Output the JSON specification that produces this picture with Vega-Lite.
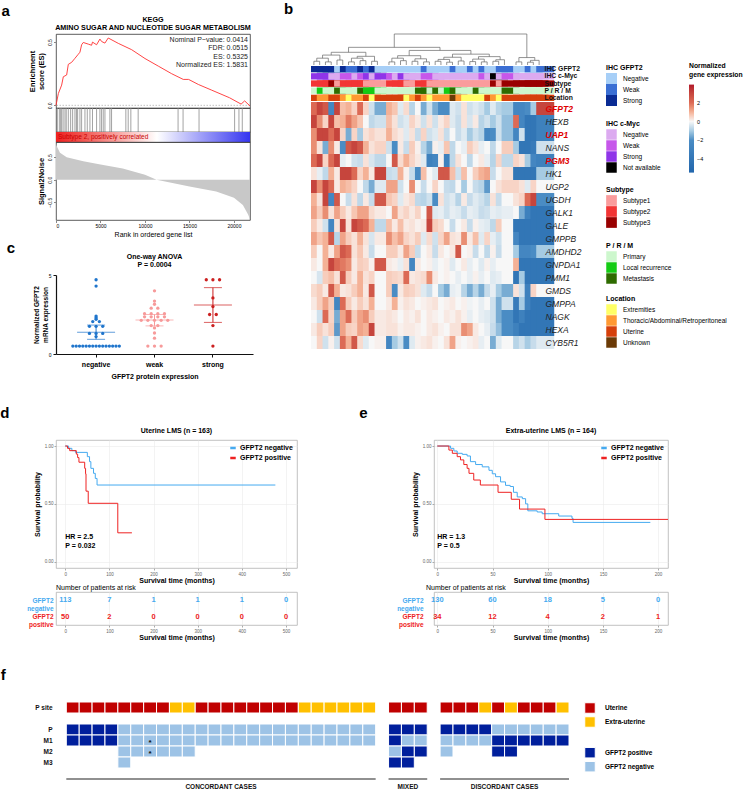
{
  "$schema": "https://vega.github.io/schema/vega-lite/v6.json",
  "background": "white",
  "padding": {"left": 0, "top": 1, "right": 0, "bottom": 0},
  "config": {
    "font": "Liberation Sans",
    "view": {"stroke": null},
    "axis": {"grid": false},
    "title": {"font": "Liberation Sans"}
  },
  "datasets": {
    "es": [
      {"rank": 0, "es": 0}, {"rank": 262, "es": 0.093}, {"rank": 635, "es": 0.16}, {"rank": 822, "es": 0.226},
      {"rank": 1196, "es": 0.24}, {"rank": 1383, "es": 0.324}, {"rank": 1757, "es": 0.34}, {"rank": 2131, "es": 0.372},
      {"rank": 2504, "es": 0.404}, {"rank": 2691, "es": 0.42}, {"rank": 2878, "es": 0.479}, {"rank": 3065, "es": 0.497},
      {"rank": 3626, "es": 0.484}, {"rank": 4000, "es": 0.475}, {"rank": 4100, "es": 0.5}, {"rank": 4560, "es": 0.479},
      {"rank": 4934, "es": 0.524}, {"rank": 5121, "es": 0.505}, {"rank": 5494, "es": 0.492}, {"rank": 5869, "es": 0.5325},
      {"rank": 7000, "es": 0.49}, {"rank": 8500, "es": 0.44}, {"rank": 10000, "es": 0.37}, {"rank": 11500, "es": 0.31},
      {"rank": 13000, "es": 0.25}, {"rank": 14300, "es": 0.205}, {"rank": 14900, "es": 0.205}, {"rank": 16000, "es": 0.165},
      {"rank": 17500, "es": 0.12}, {"rank": 19500, "es": 0.06}, {"rank": 20800, "es": 0.01}, {"rank": 21200, "es": 0.035},
      {"rank": 21800, "es": -0.005}
    ],
    "hits": [
      {"rank": 150}, {"rank": 374}, {"rank": 520}, {"rank": 636}, {"rank": 800}, {"rank": 1009}, {"rank": 1150},
      {"rank": 1383}, {"rank": 1645}, {"rank": 1869}, {"rank": 2131}, {"rank": 2300}, {"rank": 2430}, {"rank": 2691},
      {"rank": 2878}, {"rank": 3252}, {"rank": 3514}, {"rank": 3813}, {"rank": 4100}, {"rank": 4560}, {"rank": 4934},
      {"rank": 5121}, {"rank": 5308}, {"rank": 5500}, {"rank": 6056}, {"rank": 6243}, {"rank": 7850}, {"rank": 8112},
      {"rank": 8411}, {"rank": 9233}, {"rank": 13718}, {"rank": 14279}, {"rank": 16073}, {"rank": 20072},
      {"rank": 20558}, {"rank": 20931}
    ],
    "s2n": [
      {"rank": 0, "s": 0.8}, {"rank": 75, "s": 0.75}, {"rank": 450, "s": 0.6}, {"rank": 1200, "s": 0.5},
      {"rank": 3070, "s": 0.41}, {"rank": 5000, "s": 0.34}, {"rank": 7500, "s": 0.25}, {"rank": 10000, "s": 0.11},
      {"rank": 11300, "s": 0}, {"rank": 15000, "s": -0.15}, {"rank": 18000, "s": -0.26}, {"rank": 20000, "s": -0.4},
      {"rank": 21000, "s": -0.56}, {"rank": 21600, "s": -0.78}, {"rank": 21800, "s": -0.88}
    ],
    "cdots": [
      {"grp": "negative", "v": 4.7}, {"grp": "negative", "v": 4.3}, {"grp": "negative", "v": 2.4},
      {"grp": "negative", "v": 2.3}, {"grp": "negative", "v": 2.2}, {"grp": "negative", "v": 2.05},
      {"grp": "negative", "v": 2.05}, {"grp": "negative", "v": 1.75}, {"grp": "negative", "v": 1.75},
      {"grp": "negative", "v": 1.75}, {"grp": "negative", "v": 1.3}, {"grp": "negative", "v": 1.3},
      {"grp": "negative", "v": 1.3}, {"grp": "negative", "v": 1.1},
      {"grp": "negative", "v": 0.5}, {"grp": "negative", "v": 0.5}, {"grp": "negative", "v": 0.5},
      {"grp": "negative", "v": 0.5}, {"grp": "negative", "v": 0.5}, {"grp": "negative", "v": 0.5},
      {"grp": "negative", "v": 0.5}, {"grp": "negative", "v": 0.5}, {"grp": "negative", "v": 0.5},
      {"grp": "negative", "v": 0.5}, {"grp": "negative", "v": 0.5}, {"grp": "negative", "v": 0.5},
      {"grp": "negative", "v": 0.5}, {"grp": "negative", "v": 0.5}, {"grp": "negative", "v": 0.5},
      {"grp": "weak", "v": 4.0}, {"grp": "weak", "v": 3.35}, {"grp": "weak", "v": 3.15},
      {"grp": "weak", "v": 2.9}, {"grp": "weak", "v": 2.9}, {"grp": "weak", "v": 2.55},
      {"grp": "weak", "v": 2.55}, {"grp": "weak", "v": 2.55}, {"grp": "weak", "v": 2.55},
      {"grp": "weak", "v": 2.35}, {"grp": "weak", "v": 2.35}, {"grp": "weak", "v": 2.35},
      {"grp": "weak", "v": 2.35}, {"grp": "weak", "v": 2.13}, {"grp": "weak", "v": 2.13},
      {"grp": "weak", "v": 2.13}, {"grp": "weak", "v": 2.13}, {"grp": "weak", "v": 2.13},
      {"grp": "weak", "v": 1.8}, {"grp": "weak", "v": 1.8}, {"grp": "weak", "v": 1.65},
      {"grp": "weak", "v": 1.33}, {"grp": "weak", "v": 1.0}, {"grp": "weak", "v": 0.5},
      {"grp": "weak", "v": 0.5}, {"grp": "weak", "v": 0.5},
      {"grp": "strong", "v": 4.7}, {"grp": "strong", "v": 4.7}, {"grp": "strong", "v": 4.7},
      {"grp": "strong", "v": 3.55}, {"grp": "strong", "v": 3.0}, {"grp": "strong", "v": 2.5},
      {"grp": "strong", "v": 2.5}, {"grp": "strong", "v": 1.8}, {"grp": "strong", "v": 0.5}
    ],
    "cbars": [
      {"grp": "negative", "mean": 1.38, "lo": 0.93, "hi": 1.83},
      {"grp": "weak", "mean": 2.15, "lo": 1.78, "hi": 2.5},
      {"grp": "strong", "mean": 3.1, "lo": 2.0, "hi": 4.2}
    ],
    "dend": [
      {"xl": 0.5, "hl": 0, "xr": 1.5, "hr": 0, "h": 12}, {"xl": 2.5, "hl": 0, "xr": 3.5, "hr": 0, "h": 10},
      {"xl": 1, "hl": 12, "xr": 3, "hr": 10, "h": 22}, {"xl": 4.5, "hl": 0, "xr": 5.5, "hr": 0, "h": 16},
      {"xl": 2, "hl": 22, "xr": 5, "hr": 16, "h": 32}, {"xl": 6.5, "hl": 0, "xr": 7.5, "hr": 0, "h": 10},
      {"xl": 8.5, "hl": 0, "xr": 9.5, "hr": 0, "h": 14}, {"xl": 7, "hl": 10, "xr": 9, "hr": 14, "h": 22},
      {"xl": 10.5, "hl": 0, "xr": 11.5, "hr": 0, "h": 12}, {"xl": 8, "hl": 22, "xr": 11, "hr": 12, "h": 28},
      {"xl": 3.5, "hl": 32, "xr": 9.5, "hr": 28, "h": 41},
      {"xl": 13.5, "hl": 0, "xr": 14.5, "hr": 0, "h": 10}, {"xl": 15.5, "hl": 0, "xr": 16.5, "hr": 0, "h": 14},
      {"xl": 14, "hl": 10, "xr": 16, "hr": 14, "h": 22}, {"xl": 17.5, "hl": 0, "xr": 18.5, "hr": 0, "h": 12},
      {"xl": 19.5, "hl": 0, "xr": 20.5, "hr": 0, "h": 10}, {"xl": 18, "hl": 12, "xr": 20, "hr": 10, "h": 20},
      {"xl": 15, "hl": 22, "xr": 19, "hr": 20, "h": 30}, {"xl": 21.5, "hl": 0, "xr": 22.5, "hr": 0, "h": 12},
      {"xl": 23.5, "hl": 0, "xr": 24.5, "hr": 0, "h": 9}, {"xl": 22, "hl": 12, "xr": 24, "hr": 9, "h": 18},
      {"xl": 25.5, "hl": 0, "xr": 26.5, "hr": 0, "h": 13}, {"xl": 23, "hl": 18, "xr": 26, "hr": 13, "h": 25},
      {"xl": 27.5, "hl": 0, "xr": 28.5, "hr": 0, "h": 11}, {"xl": 29.5, "hl": 0, "xr": 30.5, "hr": 0, "h": 10},
      {"xl": 28, "hl": 11, "xr": 30, "hr": 10, "h": 19}, {"xl": 31.5, "hl": 0, "xr": 32.5, "hr": 0, "h": 12},
      {"xl": 32, "hl": 12, "xr": 33.5, "hr": 0, "h": 17}, {"xl": 29, "hl": 19, "xr": 32.75, "hr": 17, "h": 27},
      {"xl": 24.5, "hl": 25, "xr": 30.875, "hr": 27, "h": 35}, {"xl": 17, "hl": 30, "xr": 27.69, "hr": 35, "h": 47},
      {"xl": 35.5, "hl": 0, "xr": 36.5, "hr": 0, "h": 10}, {"xl": 37.5, "hl": 0, "xr": 38.5, "hr": 0, "h": 9},
      {"xl": 38, "hl": 9, "xr": 39.5, "hr": 0, "h": 15}, {"xl": 36, "hl": 10, "xr": 38.75, "hr": 15, "h": 24},
      {"xl": 6.5, "hl": 41, "xr": 22.34, "hr": 47, "h": 57}, {"xl": 14.42, "hl": 57, "xr": 37.375, "hr": 24, "h": 100}
    ],
    "ann": [
      {"a":"IHC GFPT2","c":1,"k":"Strong"},{"a":"IHC GFPT2","c":2,"k":"Strong"},{"a":"IHC GFPT2","c":3,"k":"Strong"},{"a":"IHC GFPT2","c":4,"k":"Strong"},{"a":"IHC GFPT2","c":5,"k":"Negative"},{"a":"IHC GFPT2","c":6,"k":"Strong"},{"a":"IHC GFPT2","c":7,"k":"Weak"},{"a":"IHC GFPT2","c":8,"k":"Weak"},{"a":"IHC GFPT2","c":9,"k":"Strong"},{"a":"IHC GFPT2","c":10,"k":"Weak"},{"a":"IHC GFPT2","c":11,"k":"Strong"},{"a":"IHC GFPT2","c":12,"k":"Negative"},{"a":"IHC GFPT2","c":13,"k":"Negative"},{"a":"IHC GFPT2","c":14,"k":"Negative"},{"a":"IHC GFPT2","c":15,"k":"Negative"},{"a":"IHC GFPT2","c":16,"k":"Negative"},{"a":"IHC GFPT2","c":17,"k":"Negative"},{"a":"IHC GFPT2","c":18,"k":"Negative"},{"a":"IHC GFPT2","c":19,"k":"Weak"},{"a":"IHC GFPT2","c":20,"k":"Negative"},{"a":"IHC GFPT2","c":21,"k":"Negative"},{"a":"IHC GFPT2","c":22,"k":"Negative"},{"a":"IHC GFPT2","c":23,"k":"Negative"},{"a":"IHC GFPT2","c":24,"k":"Weak"},{"a":"IHC GFPT2","c":25,"k":"Negative"},{"a":"IHC GFPT2","c":26,"k":"Negative"},{"a":"IHC GFPT2","c":27,"k":"Weak"},{"a":"IHC GFPT2","c":28,"k":"Negative"},{"a":"IHC GFPT2","c":29,"k":"Weak"},{"a":"IHC GFPT2","c":30,"k":"Negative"},{"a":"IHC GFPT2","c":31,"k":"Negative"},{"a":"IHC GFPT2","c":32,"k":"Weak"},{"a":"IHC GFPT2","c":33,"k":"Weak"},{"a":"IHC GFPT2","c":34,"k":"Negative"},{"a":"IHC GFPT2","c":35,"k":"Negative"},{"a":"IHC GFPT2","c":36,"k":"Weak"},{"a":"IHC GFPT2","c":37,"k":"Negative"},{"a":"IHC GFPT2","c":38,"k":"Weak"},
      {"a":"IHC c-Myc","c":1,"k":"Strong"},{"a":"IHC c-Myc","c":2,"k":"Strong"},{"a":"IHC c-Myc","c":3,"k":"Strong"},{"a":"IHC c-Myc","c":4,"k":"Negative"},{"a":"IHC c-Myc","c":5,"k":"Negative"},{"a":"IHC c-Myc","c":6,"k":"Weak"},{"a":"IHC c-Myc","c":7,"k":"Weak"},{"a":"IHC c-Myc","c":8,"k":"Negative"},{"a":"IHC c-Myc","c":9,"k":"Weak"},{"a":"IHC c-Myc","c":10,"k":"Strong"},{"a":"IHC c-Myc","c":11,"k":"Negative"},{"a":"IHC c-Myc","c":12,"k":"Strong"},{"a":"IHC c-Myc","c":13,"k":"Weak"},{"a":"IHC c-Myc","c":14,"k":"Negative"},{"a":"IHC c-Myc","c":15,"k":"Strong"},{"a":"IHC c-Myc","c":16,"k":"Negative"},{"a":"IHC c-Myc","c":17,"k":"Negative"},{"a":"IHC c-Myc","c":18,"k":"Negative"},{"a":"IHC c-Myc","c":19,"k":"Weak"},{"a":"IHC c-Myc","c":20,"k":"Weak"},{"a":"IHC c-Myc","c":21,"k":"Negative"},{"a":"IHC c-Myc","c":22,"k":"Negative"},{"a":"IHC c-Myc","c":23,"k":"Negative"},{"a":"IHC c-Myc","c":24,"k":"Negative"},{"a":"IHC c-Myc","c":25,"k":"Negative"},{"a":"IHC c-Myc","c":26,"k":"Negative"},{"a":"IHC c-Myc","c":27,"k":"Negative"},{"a":"IHC c-Myc","c":28,"k":"Negative"},{"a":"IHC c-Myc","c":29,"k":"Weak"},{"a":"IHC c-Myc","c":30,"k":"Negative"},{"a":"IHC c-Myc","c":31,"k":"Not available"},{"a":"IHC c-Myc","c":32,"k":"Negative"},{"a":"IHC c-Myc","c":33,"k":"Weak"},{"a":"IHC c-Myc","c":34,"k":"Negative"},{"a":"IHC c-Myc","c":35,"k":"Negative"},{"a":"IHC c-Myc","c":36,"k":"Negative"},{"a":"IHC c-Myc","c":37,"k":"Negative"},{"a":"IHC c-Myc","c":38,"k":"Negative"},
      {"a":"Subtype","c":1,"k":"Subtype2"},{"a":"Subtype","c":2,"k":"Subtype2"},{"a":"Subtype","c":3,"k":"Subtype2"},{"a":"Subtype","c":4,"k":"Subtype3"},{"a":"Subtype","c":5,"k":"Subtype1"},{"a":"Subtype","c":6,"k":"Subtype2"},{"a":"Subtype","c":7,"k":"Subtype2"},{"a":"Subtype","c":8,"k":"Subtype2"},{"a":"Subtype","c":9,"k":"Subtype2"},{"a":"Subtype","c":10,"k":"Subtype1"},{"a":"Subtype","c":11,"k":"Subtype1"},{"a":"Subtype","c":12,"k":"Subtype1"},{"a":"Subtype","c":13,"k":"Subtype2"},{"a":"Subtype","c":14,"k":"Subtype2"},{"a":"Subtype","c":15,"k":"Subtype2"},{"a":"Subtype","c":16,"k":"Subtype1"},{"a":"Subtype","c":17,"k":"Subtype1"},{"a":"Subtype","c":18,"k":"Subtype2"},{"a":"Subtype","c":19,"k":"Subtype2"},{"a":"Subtype","c":20,"k":"Subtype1"},{"a":"Subtype","c":21,"k":"Subtype1"},{"a":"Subtype","c":22,"k":"Subtype1"},{"a":"Subtype","c":23,"k":"Subtype1"},{"a":"Subtype","c":24,"k":"Subtype1"},{"a":"Subtype","c":25,"k":"Subtype1"},{"a":"Subtype","c":26,"k":"Subtype1"},{"a":"Subtype","c":27,"k":"Subtype1"},{"a":"Subtype","c":28,"k":"Subtype1"},{"a":"Subtype","c":29,"k":"Subtype1"},{"a":"Subtype","c":30,"k":"Subtype1"},{"a":"Subtype","c":31,"k":"Subtype3"},{"a":"Subtype","c":32,"k":"Subtype1"},{"a":"Subtype","c":33,"k":"Subtype3"},{"a":"Subtype","c":34,"k":"Subtype3"},{"a":"Subtype","c":35,"k":"Subtype3"},{"a":"Subtype","c":36,"k":"Subtype3"},{"a":"Subtype","c":37,"k":"Subtype3"},{"a":"Subtype","c":38,"k":"Subtype3"},
      {"a":"P / R / M","c":1,"k":"Primary"},{"a":"P / R / M","c":2,"k":"Local recurrence"},{"a":"P / R / M","c":3,"k":"Primary"},{"a":"P / R / M","c":4,"k":"Primary"},{"a":"P / R / M","c":5,"k":"Metastasis"},{"a":"P / R / M","c":6,"k":"Primary"},{"a":"P / R / M","c":7,"k":"Primary"},{"a":"P / R / M","c":8,"k":"Primary"},{"a":"P / R / M","c":9,"k":"Metastasis"},{"a":"P / R / M","c":10,"k":"Local recurrence"},{"a":"P / R / M","c":11,"k":"Local recurrence"},{"a":"P / R / M","c":12,"k":"Primary"},{"a":"P / R / M","c":13,"k":"Primary"},{"a":"P / R / M","c":14,"k":"Primary"},{"a":"P / R / M","c":15,"k":"Primary"},{"a":"P / R / M","c":16,"k":"Primary"},{"a":"P / R / M","c":17,"k":"Primary"},{"a":"P / R / M","c":18,"k":"Metastasis"},{"a":"P / R / M","c":19,"k":"Metastasis"},{"a":"P / R / M","c":20,"k":"Primary"},{"a":"P / R / M","c":21,"k":"Metastasis"},{"a":"P / R / M","c":22,"k":"Primary"},{"a":"P / R / M","c":23,"k":"Local recurrence"},{"a":"P / R / M","c":24,"k":"Metastasis"},{"a":"P / R / M","c":25,"k":"Primary"},{"a":"P / R / M","c":26,"k":"Primary"},{"a":"P / R / M","c":27,"k":"Primary"},{"a":"P / R / M","c":28,"k":"Metastasis"},{"a":"P / R / M","c":29,"k":"Primary"},{"a":"P / R / M","c":30,"k":"Primary"},{"a":"P / R / M","c":31,"k":"Primary"},{"a":"P / R / M","c":32,"k":"Primary"},{"a":"P / R / M","c":33,"k":"Metastasis"},{"a":"P / R / M","c":34,"k":"Primary"},{"a":"P / R / M","c":35,"k":"Primary"},{"a":"P / R / M","c":36,"k":"Primary"},{"a":"P / R / M","c":37,"k":"Primary"},{"a":"P / R / M","c":38,"k":"Primary"},
      {"a":"Location","c":1,"k":"Uterine"},{"a":"Location","c":2,"k":"Thoracic/Abdominal/Retroperitoneal"},{"a":"Location","c":3,"k":"Thoracic/Abdominal/Retroperitoneal"},{"a":"Location","c":4,"k":"Uterine"},{"a":"Location","c":5,"k":"Uterine"},{"a":"Location","c":6,"k":"Thoracic/Abdominal/Retroperitoneal"},{"a":"Location","c":7,"k":"Extremities"},{"a":"Location","c":8,"k":"Thoracic/Abdominal/Retroperitoneal"},{"a":"Location","c":9,"k":"Thoracic/Abdominal/Retroperitoneal"},{"a":"Location","c":10,"k":"Uterine"},{"a":"Location","c":11,"k":"Extremities"},{"a":"Location","c":12,"k":"Uterine"},{"a":"Location","c":13,"k":"Uterine"},{"a":"Location","c":14,"k":"Uterine"},{"a":"Location","c":15,"k":"Uterine"},{"a":"Location","c":16,"k":"Extremities"},{"a":"Location","c":17,"k":"Thoracic/Abdominal/Retroperitoneal"},{"a":"Location","c":18,"k":"Uterine"},{"a":"Location","c":19,"k":"Thoracic/Abdominal/Retroperitoneal"},{"a":"Location","c":20,"k":"Extremities"},{"a":"Location","c":21,"k":"Thoracic/Abdominal/Retroperitoneal"},{"a":"Location","c":22,"k":"Thoracic/Abdominal/Retroperitoneal"},{"a":"Location","c":23,"k":"Thoracic/Abdominal/Retroperitoneal"},{"a":"Location","c":24,"k":"Unknown"},{"a":"Location","c":25,"k":"Thoracic/Abdominal/Retroperitoneal"},{"a":"Location","c":26,"k":"Extremities"},{"a":"Location","c":27,"k":"Extremities"},{"a":"Location","c":28,"k":"Extremities"},{"a":"Location","c":29,"k":"Extremities"},{"a":"Location","c":30,"k":"Uterine"},{"a":"Location","c":31,"k":"Thoracic/Abdominal/Retroperitoneal"},{"a":"Location","c":32,"k":"Extremities"},{"a":"Location","c":33,"k":"Uterine"},{"a":"Location","c":34,"k":"Uterine"},{"a":"Location","c":35,"k":"Uterine"},{"a":"Location","c":36,"k":"Uterine"},{"a":"Location","c":37,"k":"Uterine"},{"a":"Location","c":38,"k":"Uterine"}
    ],
    "heat": [
      {"g":"GFPT2","c":1,"v":2},{"g":"GFPT2","c":2,"v":3},{"g":"GFPT2","c":3,"v":2.5},{"g":"GFPT2","c":4,"v":-2.5},{"g":"GFPT2","c":5,"v":3},{"g":"GFPT2","c":6,"v":0.8},{"g":"GFPT2","c":7,"v":1},{"g":"GFPT2","c":8,"v":0.5},{"g":"GFPT2","c":9,"v":2},{"g":"GFPT2","c":10,"v":0.5},{"g":"GFPT2","c":11,"v":-0.5},{"g":"GFPT2","c":12,"v":-1.5},{"g":"GFPT2","c":13,"v":1},{"g":"GFPT2","c":14,"v":0.7},{"g":"GFPT2","c":15,"v":-0.3},{"g":"GFPT2","c":16,"v":0.4},{"g":"GFPT2","c":17,"v":-0.8},{"g":"GFPT2","c":18,"v":0},{"g":"GFPT2","c":19,"v":-1.5},{"g":"GFPT2","c":20,"v":-0.5},{"g":"GFPT2","c":21,"v":-1.5},{"g":"GFPT2","c":22,"v":-2},{"g":"GFPT2","c":23,"v":-2},{"g":"GFPT2","c":24,"v":-0.3},{"g":"GFPT2","c":25,"v":-0.5},{"g":"GFPT2","c":26,"v":0.3},{"g":"GFPT2","c":27,"v":-0.5},{"g":"GFPT2","c":28,"v":-0.3},{"g":"GFPT2","c":29,"v":-0.5},{"g":"GFPT2","c":30,"v":-1},{"g":"GFPT2","c":31,"v":-0.3},{"g":"GFPT2","c":32,"v":-0.8},{"g":"GFPT2","c":33,"v":-1},{"g":"GFPT2","c":34,"v":-2.5},{"g":"GFPT2","c":35,"v":-2.5},{"g":"GFPT2","c":36,"v":-2},{"g":"GFPT2","c":37,"v":-1},{"g":"GFPT2","c":38,"v":3},
      {"g":"HEXB","c":1,"v":3},{"g":"HEXB","c":2,"v":1.5},{"g":"HEXB","c":3,"v":0.5},{"g":"HEXB","c":4,"v":3},{"g":"HEXB","c":5,"v":0.8},{"g":"HEXB","c":6,"v":1},{"g":"HEXB","c":7,"v":1.8},{"g":"HEXB","c":8,"v":1.2},{"g":"HEXB","c":9,"v":0.7},{"g":"HEXB","c":10,"v":0},{"g":"HEXB","c":11,"v":-0.7},{"g":"HEXB","c":12,"v":-0.5},{"g":"HEXB","c":13,"v":0.8},{"g":"HEXB","c":14,"v":0.3},{"g":"HEXB","c":15,"v":-0.5},{"g":"HEXB","c":16,"v":-0.3},{"g":"HEXB","c":17,"v":0.5},{"g":"HEXB","c":18,"v":0.2},{"g":"HEXB","c":19,"v":-0.5},{"g":"HEXB","c":20,"v":0.3},{"g":"HEXB","c":21,"v":-0.5},{"g":"HEXB","c":22,"v":0.2},{"g":"HEXB","c":23,"v":0.5},{"g":"HEXB","c":24,"v":-0.3},{"g":"HEXB","c":25,"v":-0.6},{"g":"HEXB","c":26,"v":0.3},{"g":"HEXB","c":27,"v":-0.4},{"g":"HEXB","c":28,"v":0.2},{"g":"HEXB","c":29,"v":-0.8},{"g":"HEXB","c":30,"v":-0.5},{"g":"HEXB","c":31,"v":-1},{"g":"HEXB","c":32,"v":-0.5},{"g":"HEXB","c":33,"v":-1.2},{"g":"HEXB","c":34,"v":2},{"g":"HEXB","c":35,"v":-2.5},{"g":"HEXB","c":36,"v":-4},{"g":"HEXB","c":37,"v":-4},{"g":"HEXB","c":38,"v":-3},
      {"g":"UAP1","c":1,"v":1.5},{"g":"UAP1","c":2,"v":3},{"g":"UAP1","c":3,"v":3},{"g":"UAP1","c":4,"v":2},{"g":"UAP1","c":5,"v":3},{"g":"UAP1","c":6,"v":0.5},{"g":"UAP1","c":7,"v":-1.5},{"g":"UAP1","c":8,"v":0.5},{"g":"UAP1","c":9,"v":-1},{"g":"UAP1","c":10,"v":0.3},{"g":"UAP1","c":11,"v":0.5},{"g":"UAP1","c":12,"v":0.3},{"g":"UAP1","c":13,"v":1},{"g":"UAP1","c":14,"v":0.4},{"g":"UAP1","c":15,"v":0.2},{"g":"UAP1","c":16,"v":-0.3},{"g":"UAP1","c":17,"v":0.3},{"g":"UAP1","c":18,"v":-0.6},{"g":"UAP1","c":19,"v":0.5},{"g":"UAP1","c":20,"v":-0.5},{"g":"UAP1","c":21,"v":-0.3},{"g":"UAP1","c":22,"v":0.3},{"g":"UAP1","c":23,"v":-0.6},{"g":"UAP1","c":24,"v":0},{"g":"UAP1","c":25,"v":-0.6},{"g":"UAP1","c":26,"v":-0.3},{"g":"UAP1","c":27,"v":-1},{"g":"UAP1","c":28,"v":-0.5},{"g":"UAP1","c":29,"v":-0.8},{"g":"UAP1","c":30,"v":-2.5},{"g":"UAP1","c":31,"v":-2},{"g":"UAP1","c":32,"v":-0.5},{"g":"UAP1","c":33,"v":-1.2},{"g":"UAP1","c":34,"v":-2.5},{"g":"UAP1","c":35,"v":-0.5},{"g":"UAP1","c":36,"v":-4},{"g":"UAP1","c":37,"v":-4},{"g":"UAP1","c":38,"v":-3},
      {"g":"NANS","c":1,"v":1.5},{"g":"NANS","c":2,"v":0.3},{"g":"NANS","c":3,"v":-1.5},{"g":"NANS","c":4,"v":1.5},{"g":"NANS","c":5,"v":0.2},{"g":"NANS","c":6,"v":-2},{"g":"NANS","c":7,"v":2.5},{"g":"NANS","c":8,"v":3},{"g":"NANS","c":9,"v":2.5},{"g":"NANS","c":10,"v":1},{"g":"NANS","c":11,"v":0.3},{"g":"NANS","c":12,"v":0.5},{"g":"NANS","c":13,"v":-0.5},{"g":"NANS","c":14,"v":-2},{"g":"NANS","c":15,"v":0.2},{"g":"NANS","c":16,"v":-0.6},{"g":"NANS","c":17,"v":0.6},{"g":"NANS","c":18,"v":0.1},{"g":"NANS","c":19,"v":-0.8},{"g":"NANS","c":20,"v":-1.5},{"g":"NANS","c":21,"v":0.1},{"g":"NANS","c":22,"v":-0.2},{"g":"NANS","c":23,"v":0.7},{"g":"NANS","c":24,"v":-0.7},{"g":"NANS","c":25,"v":0},{"g":"NANS","c":26,"v":-0.2},{"g":"NANS","c":27,"v":0.6},{"g":"NANS","c":28,"v":0.3},{"g":"NANS","c":29,"v":-0.2},{"g":"NANS","c":30,"v":0},{"g":"NANS","c":31,"v":-0.7},{"g":"NANS","c":32,"v":0},{"g":"NANS","c":33,"v":0.6},{"g":"NANS","c":34,"v":-1},{"g":"NANS","c":35,"v":-4},{"g":"NANS","c":36,"v":-4},{"g":"NANS","c":37,"v":-3.5},{"g":"NANS","c":38,"v":-0.5},
      {"g":"PGM3","c":1,"v":2},{"g":"PGM3","c":2,"v":3},{"g":"PGM3","c":3,"v":0.5},{"g":"PGM3","c":4,"v":2},{"g":"PGM3","c":5,"v":3},{"g":"PGM3","c":6,"v":-0.2},{"g":"PGM3","c":7,"v":0},{"g":"PGM3","c":8,"v":-0.5},{"g":"PGM3","c":9,"v":-0.6},{"g":"PGM3","c":10,"v":0.3},{"g":"PGM3","c":11,"v":-0.4},{"g":"PGM3","c":12,"v":-0.7},{"g":"PGM3","c":13,"v":0},{"g":"PGM3","c":14,"v":2.5},{"g":"PGM3","c":15,"v":0.4},{"g":"PGM3","c":16,"v":1},{"g":"PGM3","c":17,"v":0.5},{"g":"PGM3","c":18,"v":0.2},{"g":"PGM3","c":19,"v":-0.3},{"g":"PGM3","c":20,"v":-3},{"g":"PGM3","c":21,"v":-2.5},{"g":"PGM3","c":22,"v":0.1},{"g":"PGM3","c":23,"v":-3},{"g":"PGM3","c":24,"v":-0.7},{"g":"PGM3","c":25,"v":0.3},{"g":"PGM3","c":26,"v":0},{"g":"PGM3","c":27,"v":-0.7},{"g":"PGM3","c":28,"v":0},{"g":"PGM3","c":29,"v":0.2},{"g":"PGM3","c":30,"v":-0.2},{"g":"PGM3","c":31,"v":-0.8},{"g":"PGM3","c":32,"v":0.5},{"g":"PGM3","c":33,"v":-0.7},{"g":"PGM3","c":34,"v":0.5},{"g":"PGM3","c":35,"v":0.3},{"g":"PGM3","c":36,"v":-1},{"g":"PGM3","c":37,"v":-2.5},{"g":"PGM3","c":38,"v":-3},
      {"g":"HK1","c":1,"v":0.3},{"g":"HK1","c":2,"v":-0.2},{"g":"HK1","c":3,"v":-0.7},{"g":"HK1","c":4,"v":1},{"g":"HK1","c":5,"v":0.2},{"g":"HK1","c":6,"v":3},{"g":"HK1","c":7,"v":3},{"g":"HK1","c":8,"v":2},{"g":"HK1","c":9,"v":0.5},{"g":"HK1","c":10,"v":1},{"g":"HK1","c":11,"v":0.2},{"g":"HK1","c":12,"v":3},{"g":"HK1","c":13,"v":-0.6},{"g":"HK1","c":14,"v":-0.5},{"g":"HK1","c":15,"v":1},{"g":"HK1","c":16,"v":0.1},{"g":"HK1","c":17,"v":-0.6},{"g":"HK1","c":18,"v":-2},{"g":"HK1","c":19,"v":0.8},{"g":"HK1","c":20,"v":0},{"g":"HK1","c":21,"v":-0.3},{"g":"HK1","c":22,"v":2.5},{"g":"HK1","c":23,"v":2.5},{"g":"HK1","c":24,"v":0.8},{"g":"HK1","c":25,"v":-0.5},{"g":"HK1","c":26,"v":0.8},{"g":"HK1","c":27,"v":0},{"g":"HK1","c":28,"v":0.6},{"g":"HK1","c":29,"v":1},{"g":"HK1","c":30,"v":1.2},{"g":"HK1","c":31,"v":-0.6},{"g":"HK1","c":32,"v":0},{"g":"HK1","c":33,"v":0.3},{"g":"HK1","c":34,"v":-4},{"g":"HK1","c":35,"v":-4},{"g":"HK1","c":36,"v":-4},{"g":"HK1","c":37,"v":-4},{"g":"HK1","c":38,"v":-1},
      {"g":"UGP2","c":1,"v":3},{"g":"UGP2","c":2,"v":1.5},{"g":"UGP2","c":3,"v":3},{"g":"UGP2","c":4,"v":2},{"g":"UGP2","c":5,"v":0.2},{"g":"UGP2","c":6,"v":1},{"g":"UGP2","c":7,"v":0.8},{"g":"UGP2","c":8,"v":0.5},{"g":"UGP2","c":9,"v":0},{"g":"UGP2","c":10,"v":-0.7},{"g":"UGP2","c":11,"v":-1.5},{"g":"UGP2","c":12,"v":-0.3},{"g":"UGP2","c":13,"v":1.2},{"g":"UGP2","c":14,"v":1.2},{"g":"UGP2","c":15,"v":-0.5},{"g":"UGP2","c":16,"v":0},{"g":"UGP2","c":17,"v":1.5},{"g":"UGP2","c":18,"v":0},{"g":"UGP2","c":19,"v":-0.6},{"g":"UGP2","c":20,"v":0},{"g":"UGP2","c":21,"v":0.5},{"g":"UGP2","c":22,"v":0},{"g":"UGP2","c":23,"v":-0.6},{"g":"UGP2","c":24,"v":-0.7},{"g":"UGP2","c":25,"v":0},{"g":"UGP2","c":26,"v":-1},{"g":"UGP2","c":27,"v":0},{"g":"UGP2","c":28,"v":-0.6},{"g":"UGP2","c":29,"v":-0.8},{"g":"UGP2","c":30,"v":-1.8},{"g":"UGP2","c":31,"v":0},{"g":"UGP2","c":32,"v":0.3},{"g":"UGP2","c":33,"v":0.5},{"g":"UGP2","c":34,"v":0.5},{"g":"UGP2","c":35,"v":0.3},{"g":"UGP2","c":36,"v":-0.3},{"g":"UGP2","c":37,"v":0.5},{"g":"UGP2","c":38,"v":0},
      {"g":"UGDH","c":1,"v":1},{"g":"UGDH","c":2,"v":0.3},{"g":"UGDH","c":3,"v":3},{"g":"UGDH","c":4,"v":-2.5},{"g":"UGDH","c":5,"v":2.5},{"g":"UGDH","c":6,"v":0},{"g":"UGDH","c":7,"v":-0.6},{"g":"UGDH","c":8,"v":0.3},{"g":"UGDH","c":9,"v":-0.7},{"g":"UGDH","c":10,"v":0.2},{"g":"UGDH","c":11,"v":-0.6},{"g":"UGDH","c":12,"v":2.5},{"g":"UGDH","c":13,"v":0.7},{"g":"UGDH","c":14,"v":0.5},{"g":"UGDH","c":15,"v":-0.3},{"g":"UGDH","c":16,"v":0.2},{"g":"UGDH","c":17,"v":0.4},{"g":"UGDH","c":18,"v":-0.7},{"g":"UGDH","c":19,"v":-0.8},{"g":"UGDH","c":20,"v":-0.5},{"g":"UGDH","c":21,"v":-2},{"g":"UGDH","c":22,"v":0.3},{"g":"UGDH","c":23,"v":-0.5},{"g":"UGDH","c":24,"v":-0.3},{"g":"UGDH","c":25,"v":-0.8},{"g":"UGDH","c":26,"v":0.2},{"g":"UGDH","c":27,"v":-0.6},{"g":"UGDH","c":28,"v":-0.3},{"g":"UGDH","c":29,"v":-0.5},{"g":"UGDH","c":30,"v":-0.8},{"g":"UGDH","c":31,"v":0.3},{"g":"UGDH","c":32,"v":-0.6},{"g":"UGDH","c":33,"v":0},{"g":"UGDH","c":34,"v":0.3},{"g":"UGDH","c":35,"v":0.5},{"g":"UGDH","c":36,"v":2},{"g":"UGDH","c":37,"v":3},{"g":"UGDH","c":38,"v":-2},
      {"g":"GALK1","c":1,"v":1.2},{"g":"GALK1","c":2,"v":0.6},{"g":"GALK1","c":3,"v":1.5},{"g":"GALK1","c":4,"v":0.3},{"g":"GALK1","c":5,"v":1.2},{"g":"GALK1","c":6,"v":0.6},{"g":"GALK1","c":7,"v":0.2},{"g":"GALK1","c":8,"v":0.7},{"g":"GALK1","c":9,"v":1.2},{"g":"GALK1","c":10,"v":1.2},{"g":"GALK1","c":11,"v":0.4},{"g":"GALK1","c":12,"v":0.2},{"g":"GALK1","c":13,"v":0},{"g":"GALK1","c":14,"v":1.2},{"g":"GALK1","c":15,"v":0.3},{"g":"GALK1","c":16,"v":0.5},{"g":"GALK1","c":17,"v":0.2},{"g":"GALK1","c":18,"v":0.5},{"g":"GALK1","c":19,"v":0},{"g":"GALK1","c":20,"v":2.5},{"g":"GALK1","c":21,"v":-0.3},{"g":"GALK1","c":22,"v":-0.2},{"g":"GALK1","c":23,"v":-0.5},{"g":"GALK1","c":24,"v":-0.2},{"g":"GALK1","c":25,"v":-0.3},{"g":"GALK1","c":26,"v":-0.6},{"g":"GALK1","c":27,"v":-0.2},{"g":"GALK1","c":28,"v":-0.3},{"g":"GALK1","c":29,"v":-0.6},{"g":"GALK1","c":30,"v":-0.5},{"g":"GALK1","c":31,"v":-0.2},{"g":"GALK1","c":32,"v":-0.3},{"g":"GALK1","c":33,"v":-0.2},{"g":"GALK1","c":34,"v":0},{"g":"GALK1","c":35,"v":-1.5},{"g":"GALK1","c":36,"v":-3},{"g":"GALK1","c":37,"v":-4},{"g":"GALK1","c":38,"v":-4},
      {"g":"GALE","c":1,"v":0.6},{"g":"GALE","c":2,"v":0.2},{"g":"GALE","c":3,"v":-0.5},{"g":"GALE","c":4,"v":-2.5},{"g":"GALE","c":5,"v":0.3},{"g":"GALE","c":6,"v":3},{"g":"GALE","c":7,"v":0.3},{"g":"GALE","c":8,"v":3},{"g":"GALE","c":9,"v":2.5},{"g":"GALE","c":10,"v":2},{"g":"GALE","c":11,"v":1},{"g":"GALE","c":12,"v":-0.7},{"g":"GALE","c":13,"v":0.8},{"g":"GALE","c":14,"v":0.2},{"g":"GALE","c":15,"v":0.8},{"g":"GALE","c":16,"v":0.2},{"g":"GALE","c":17,"v":0.3},{"g":"GALE","c":18,"v":0.1},{"g":"GALE","c":19,"v":0.2},{"g":"GALE","c":20,"v":3},{"g":"GALE","c":21,"v":0.6},{"g":"GALE","c":22,"v":0.4},{"g":"GALE","c":23,"v":0},{"g":"GALE","c":24,"v":-0.6},{"g":"GALE","c":25,"v":0},{"g":"GALE","c":26,"v":0.2},{"g":"GALE","c":27,"v":-0.6},{"g":"GALE","c":28,"v":0.1},{"g":"GALE","c":29,"v":-0.2},{"g":"GALE","c":30,"v":-0.3},{"g":"GALE","c":31,"v":-0.7},{"g":"GALE","c":32,"v":0.6},{"g":"GALE","c":33,"v":0},{"g":"GALE","c":34,"v":-4},{"g":"GALE","c":35,"v":-4},{"g":"GALE","c":36,"v":-4},{"g":"GALE","c":37,"v":-4},{"g":"GALE","c":38,"v":-4},
      {"g":"GMPPB","c":1,"v":1.2},{"g":"GMPPB","c":2,"v":0.7},{"g":"GMPPB","c":3,"v":1},{"g":"GMPPB","c":4,"v":2.5},{"g":"GMPPB","c":5,"v":-0.8},{"g":"GMPPB","c":6,"v":1.2},{"g":"GMPPB","c":7,"v":0.6},{"g":"GMPPB","c":8,"v":0.3},{"g":"GMPPB","c":9,"v":1},{"g":"GMPPB","c":10,"v":0.3},{"g":"GMPPB","c":11,"v":-0.4},{"g":"GMPPB","c":12,"v":0.2},{"g":"GMPPB","c":13,"v":1.5},{"g":"GMPPB","c":14,"v":0.8},{"g":"GMPPB","c":15,"v":1.2},{"g":"GMPPB","c":16,"v":0.5},{"g":"GMPPB","c":17,"v":0.3},{"g":"GMPPB","c":18,"v":0.6},{"g":"GMPPB","c":19,"v":-0.3},{"g":"GMPPB","c":20,"v":0.4},{"g":"GMPPB","c":21,"v":-0.5},{"g":"GMPPB","c":22,"v":0.5},{"g":"GMPPB","c":23,"v":1.2},{"g":"GMPPB","c":24,"v":0.3},{"g":"GMPPB","c":25,"v":0.2},{"g":"GMPPB","c":26,"v":1.5},{"g":"GMPPB","c":27,"v":0.2},{"g":"GMPPB","c":28,"v":0.8},{"g":"GMPPB","c":29,"v":-0.3},{"g":"GMPPB","c":30,"v":0.5},{"g":"GMPPB","c":31,"v":-0.2},{"g":"GMPPB","c":32,"v":-0.5},{"g":"GMPPB","c":33,"v":0},{"g":"GMPPB","c":34,"v":-2.5},{"g":"GMPPB","c":35,"v":-4},{"g":"GMPPB","c":36,"v":-4},{"g":"GMPPB","c":37,"v":-4},{"g":"GMPPB","c":38,"v":-4},
      {"g":"AMDHD2","c":1,"v":0.6},{"g":"AMDHD2","c":2,"v":0},{"g":"AMDHD2","c":3,"v":1},{"g":"AMDHD2","c":4,"v":0.2},{"g":"AMDHD2","c":5,"v":1.2},{"g":"AMDHD2","c":6,"v":2.5},{"g":"AMDHD2","c":7,"v":2},{"g":"AMDHD2","c":8,"v":0.3},{"g":"AMDHD2","c":9,"v":0.7},{"g":"AMDHD2","c":10,"v":0.2},{"g":"AMDHD2","c":11,"v":-0.6},{"g":"AMDHD2","c":12,"v":0},{"g":"AMDHD2","c":13,"v":0.6},{"g":"AMDHD2","c":14,"v":0.6},{"g":"AMDHD2","c":15,"v":0.2},{"g":"AMDHD2","c":16,"v":1.2},{"g":"AMDHD2","c":17,"v":0.6},{"g":"AMDHD2","c":18,"v":-0.6},{"g":"AMDHD2","c":19,"v":0},{"g":"AMDHD2","c":20,"v":0.2},{"g":"AMDHD2","c":21,"v":-0.6},{"g":"AMDHD2","c":22,"v":0.2},{"g":"AMDHD2","c":23,"v":0},{"g":"AMDHD2","c":24,"v":0.2},{"g":"AMDHD2","c":25,"v":2.5},{"g":"AMDHD2","c":26,"v":0},{"g":"AMDHD2","c":27,"v":0.1},{"g":"AMDHD2","c":28,"v":-0.6},{"g":"AMDHD2","c":29,"v":0},{"g":"AMDHD2","c":30,"v":-0.7},{"g":"AMDHD2","c":31,"v":0.1},{"g":"AMDHD2","c":32,"v":-0.6},{"g":"AMDHD2","c":33,"v":0},{"g":"AMDHD2","c":34,"v":-1},{"g":"AMDHD2","c":35,"v":-2.5},{"g":"AMDHD2","c":36,"v":-2.5},{"g":"AMDHD2","c":37,"v":-2},{"g":"AMDHD2","c":38,"v":-1},
      {"g":"GNPDA1","c":1,"v":0.2},{"g":"GNPDA1","c":2,"v":0},{"g":"GNPDA1","c":3,"v":1},{"g":"GNPDA1","c":4,"v":3},{"g":"GNPDA1","c":5,"v":2},{"g":"GNPDA1","c":6,"v":1.8},{"g":"GNPDA1","c":7,"v":1.5},{"g":"GNPDA1","c":8,"v":0.2},{"g":"GNPDA1","c":9,"v":0.6},{"g":"GNPDA1","c":10,"v":0.5},{"g":"GNPDA1","c":11,"v":0.1},{"g":"GNPDA1","c":12,"v":2.5},{"g":"GNPDA1","c":13,"v":0.2},{"g":"GNPDA1","c":14,"v":0.1},{"g":"GNPDA1","c":15,"v":-0.2},{"g":"GNPDA1","c":16,"v":0.3},{"g":"GNPDA1","c":17,"v":-2.5},{"g":"GNPDA1","c":18,"v":0.2},{"g":"GNPDA1","c":19,"v":0},{"g":"GNPDA1","c":20,"v":0.1},{"g":"GNPDA1","c":21,"v":-0.2},{"g":"GNPDA1","c":22,"v":0},{"g":"GNPDA1","c":23,"v":0.1},{"g":"GNPDA1","c":24,"v":-0.3},{"g":"GNPDA1","c":25,"v":0},{"g":"GNPDA1","c":26,"v":0.2},{"g":"GNPDA1","c":27,"v":-0.2},{"g":"GNPDA1","c":28,"v":0},{"g":"GNPDA1","c":29,"v":-0.3},{"g":"GNPDA1","c":30,"v":0.1},{"g":"GNPDA1","c":31,"v":-0.2},{"g":"GNPDA1","c":32,"v":0},{"g":"GNPDA1","c":33,"v":0},{"g":"GNPDA1","c":34,"v":1},{"g":"GNPDA1","c":35,"v":-4},{"g":"GNPDA1","c":36,"v":-4},{"g":"GNPDA1","c":37,"v":-4},{"g":"GNPDA1","c":38,"v":-4},
      {"g":"PMM1","c":1,"v":0},{"g":"PMM1","c":2,"v":-0.4},{"g":"PMM1","c":3,"v":0.6},{"g":"PMM1","c":4,"v":0.8},{"g":"PMM1","c":5,"v":0.3},{"g":"PMM1","c":6,"v":2.5},{"g":"PMM1","c":7,"v":0.6},{"g":"PMM1","c":8,"v":0.2},{"g":"PMM1","c":9,"v":1},{"g":"PMM1","c":10,"v":0.3},{"g":"PMM1","c":11,"v":0.5},{"g":"PMM1","c":12,"v":0},{"g":"PMM1","c":13,"v":0.6},{"g":"PMM1","c":14,"v":0.5},{"g":"PMM1","c":15,"v":0.4},{"g":"PMM1","c":16,"v":2},{"g":"PMM1","c":17,"v":0.2},{"g":"PMM1","c":18,"v":0.3},{"g":"PMM1","c":19,"v":0.4},{"g":"PMM1","c":20,"v":1.5},{"g":"PMM1","c":21,"v":0.2},{"g":"PMM1","c":22,"v":0},{"g":"PMM1","c":23,"v":0.1},{"g":"PMM1","c":24,"v":0},{"g":"PMM1","c":25,"v":-0.2},{"g":"PMM1","c":26,"v":0},{"g":"PMM1","c":27,"v":-0.2},{"g":"PMM1","c":28,"v":0.1},{"g":"PMM1","c":29,"v":-0.2},{"g":"PMM1","c":30,"v":0},{"g":"PMM1","c":31,"v":-0.3},{"g":"PMM1","c":32,"v":-0.2},{"g":"PMM1","c":33,"v":0},{"g":"PMM1","c":34,"v":-4},{"g":"PMM1","c":35,"v":-1},{"g":"PMM1","c":36,"v":-4},{"g":"PMM1","c":37,"v":-4},{"g":"PMM1","c":38,"v":-4},
      {"g":"GMDS","c":1,"v":0.4},{"g":"GMDS","c":2,"v":0.6},{"g":"GMDS","c":3,"v":0.2},{"g":"GMDS","c":4,"v":2.5},{"g":"GMDS","c":5,"v":1},{"g":"GMDS","c":6,"v":0.2},{"g":"GMDS","c":7,"v":0.3},{"g":"GMDS","c":8,"v":0.6},{"g":"GMDS","c":9,"v":1},{"g":"GMDS","c":10,"v":0.2},{"g":"GMDS","c":11,"v":2.5},{"g":"GMDS","c":12,"v":0},{"g":"GMDS","c":13,"v":0.6},{"g":"GMDS","c":14,"v":-2},{"g":"GMDS","c":15,"v":0.2},{"g":"GMDS","c":16,"v":0.6},{"g":"GMDS","c":17,"v":0.5},{"g":"GMDS","c":18,"v":0.3},{"g":"GMDS","c":19,"v":-0.3},{"g":"GMDS","c":20,"v":-0.6},{"g":"GMDS","c":21,"v":0},{"g":"GMDS","c":22,"v":-1},{"g":"GMDS","c":23,"v":-1.5},{"g":"GMDS","c":24,"v":-0.2},{"g":"GMDS","c":25,"v":-0.1},{"g":"GMDS","c":26,"v":-0.8},{"g":"GMDS","c":27,"v":-1.5},{"g":"GMDS","c":28,"v":-0.8},{"g":"GMDS","c":29,"v":-1.5},{"g":"GMDS","c":30,"v":-0.6},{"g":"GMDS","c":31,"v":-0.2},{"g":"GMDS","c":32,"v":-1},{"g":"GMDS","c":33,"v":-1.5},{"g":"GMDS","c":34,"v":0.3},{"g":"GMDS","c":35,"v":-0.5},{"g":"GMDS","c":36,"v":-3},{"g":"GMDS","c":37,"v":0.5},{"g":"GMDS","c":38,"v":0},
      {"g":"GMPPA","c":1,"v":0.2},{"g":"GMPPA","c":2,"v":0.6},{"g":"GMPPA","c":3,"v":1.2},{"g":"GMPPA","c":4,"v":0.6},{"g":"GMPPA","c":5,"v":-2.5},{"g":"GMPPA","c":6,"v":2},{"g":"GMPPA","c":7,"v":0.6},{"g":"GMPPA","c":8,"v":0.2},{"g":"GMPPA","c":9,"v":0.6},{"g":"GMPPA","c":10,"v":0.3},{"g":"GMPPA","c":11,"v":1},{"g":"GMPPA","c":12,"v":0},{"g":"GMPPA","c":13,"v":0.2},{"g":"GMPPA","c":14,"v":1},{"g":"GMPPA","c":15,"v":0.1},{"g":"GMPPA","c":16,"v":0.3},{"g":"GMPPA","c":17,"v":0.2},{"g":"GMPPA","c":18,"v":0},{"g":"GMPPA","c":19,"v":0.1},{"g":"GMPPA","c":20,"v":0.2},{"g":"GMPPA","c":21,"v":0.3},{"g":"GMPPA","c":22,"v":0},{"g":"GMPPA","c":23,"v":0.1},{"g":"GMPPA","c":24,"v":0.2},{"g":"GMPPA","c":25,"v":0},{"g":"GMPPA","c":26,"v":0.1},{"g":"GMPPA","c":27,"v":-0.1},{"g":"GMPPA","c":28,"v":0},{"g":"GMPPA","c":29,"v":-0.2},{"g":"GMPPA","c":30,"v":0},{"g":"GMPPA","c":31,"v":-0.5},{"g":"GMPPA","c":32,"v":-1.5},{"g":"GMPPA","c":33,"v":-0.5},{"g":"GMPPA","c":34,"v":-3.5},{"g":"GMPPA","c":35,"v":-1},{"g":"GMPPA","c":36,"v":-3},{"g":"GMPPA","c":37,"v":-4},{"g":"GMPPA","c":38,"v":-4},
      {"g":"NAGK","c":1,"v":0},{"g":"NAGK","c":2,"v":-0.5},{"g":"NAGK","c":3,"v":2},{"g":"NAGK","c":4,"v":0.5},{"g":"NAGK","c":5,"v":-1.5},{"g":"NAGK","c":6,"v":1.2},{"g":"NAGK","c":7,"v":2},{"g":"NAGK","c":8,"v":0.6},{"g":"NAGK","c":9,"v":1.2},{"g":"NAGK","c":10,"v":1.5},{"g":"NAGK","c":11,"v":0.6},{"g":"NAGK","c":12,"v":0.2},{"g":"NAGK","c":13,"v":0.3},{"g":"NAGK","c":14,"v":0.2},{"g":"NAGK","c":15,"v":0},{"g":"NAGK","c":16,"v":0.2},{"g":"NAGK","c":17,"v":0.1},{"g":"NAGK","c":18,"v":0.3},{"g":"NAGK","c":19,"v":0},{"g":"NAGK","c":20,"v":0.2},{"g":"NAGK","c":21,"v":0.1},{"g":"NAGK","c":22,"v":0},{"g":"NAGK","c":23,"v":0.2},{"g":"NAGK","c":24,"v":0.1},{"g":"NAGK","c":25,"v":0.3},{"g":"NAGK","c":26,"v":0.1},{"g":"NAGK","c":27,"v":-0.2},{"g":"NAGK","c":28,"v":0},{"g":"NAGK","c":29,"v":-0.2},{"g":"NAGK","c":30,"v":-0.3},{"g":"NAGK","c":31,"v":-0.5},{"g":"NAGK","c":32,"v":-1.5},{"g":"NAGK","c":33,"v":-2},{"g":"NAGK","c":34,"v":-4},{"g":"NAGK","c":35,"v":-3},{"g":"NAGK","c":36,"v":-4},{"g":"NAGK","c":37,"v":-4},{"g":"NAGK","c":38,"v":-4},
      {"g":"HEXA","c":1,"v":0.2},{"g":"HEXA","c":2,"v":0.6},{"g":"HEXA","c":3,"v":0.3},{"g":"HEXA","c":4,"v":0.6},{"g":"HEXA","c":5,"v":-1.8},{"g":"HEXA","c":6,"v":1.2},{"g":"HEXA","c":7,"v":0.6},{"g":"HEXA","c":8,"v":0.5},{"g":"HEXA","c":9,"v":1.2},{"g":"HEXA","c":10,"v":1},{"g":"HEXA","c":11,"v":3},{"g":"HEXA","c":12,"v":0.2},{"g":"HEXA","c":13,"v":0.3},{"g":"HEXA","c":14,"v":0.3},{"g":"HEXA","c":15,"v":0.1},{"g":"HEXA","c":16,"v":0.2},{"g":"HEXA","c":17,"v":0.2},{"g":"HEXA","c":18,"v":0.1},{"g":"HEXA","c":19,"v":0},{"g":"HEXA","c":20,"v":0.2},{"g":"HEXA","c":21,"v":0.3},{"g":"HEXA","c":22,"v":0.1},{"g":"HEXA","c":23,"v":0},{"g":"HEXA","c":24,"v":0.3},{"g":"HEXA","c":25,"v":0.3},{"g":"HEXA","c":26,"v":1.5},{"g":"HEXA","c":27,"v":1.2},{"g":"HEXA","c":28,"v":0.2},{"g":"HEXA","c":29,"v":0},{"g":"HEXA","c":30,"v":-0.2},{"g":"HEXA","c":31,"v":-0.6},{"g":"HEXA","c":32,"v":-1.2},{"g":"HEXA","c":33,"v":-2},{"g":"HEXA","c":34,"v":-3},{"g":"HEXA","c":35,"v":-4},{"g":"HEXA","c":36,"v":-4},{"g":"HEXA","c":37,"v":-4},{"g":"HEXA","c":38,"v":-4},
      {"g":"CYB5R1","c":1,"v":0},{"g":"CYB5R1","c":2,"v":0.5},{"g":"CYB5R1","c":3,"v":-0.5},{"g":"CYB5R1","c":4,"v":0.1},{"g":"CYB5R1","c":5,"v":-0.5},{"g":"CYB5R1","c":6,"v":2},{"g":"CYB5R1","c":7,"v":1},{"g":"CYB5R1","c":8,"v":2.5},{"g":"CYB5R1","c":9,"v":0.4},{"g":"CYB5R1","c":10,"v":-0.3},{"g":"CYB5R1","c":11,"v":0},{"g":"CYB5R1","c":12,"v":0.1},{"g":"CYB5R1","c":13,"v":-2.5},{"g":"CYB5R1","c":14,"v":-1},{"g":"CYB5R1","c":15,"v":-0.5},{"g":"CYB5R1","c":16,"v":-2},{"g":"CYB5R1","c":17,"v":-0.3},{"g":"CYB5R1","c":18,"v":0.1},{"g":"CYB5R1","c":19,"v":0.2},{"g":"CYB5R1","c":20,"v":0.3},{"g":"CYB5R1","c":21,"v":0.1},{"g":"CYB5R1","c":22,"v":0},{"g":"CYB5R1","c":23,"v":0.3},{"g":"CYB5R1","c":24,"v":1.2},{"g":"CYB5R1","c":25,"v":0.1},{"g":"CYB5R1","c":26,"v":0},{"g":"CYB5R1","c":27,"v":0.1},{"g":"CYB5R1","c":28,"v":0.2},{"g":"CYB5R1","c":29,"v":-0.2},{"g":"CYB5R1","c":30,"v":0},{"g":"CYB5R1","c":31,"v":-1.5},{"g":"CYB5R1","c":32,"v":-0.3},{"g":"CYB5R1","c":33,"v":0},{"g":"CYB5R1","c":34,"v":-0.8},{"g":"CYB5R1","c":35,"v":-0.5},{"g":"CYB5R1","c":36,"v":-1},{"g":"CYB5R1","c":37,"v":-0.6},{"g":"CYB5R1","c":38,"v":-0.3}
    ],
    "kmd": [
      {"grp":"GFPT2 negative","t":0,"s":1},{"grp":"GFPT2 negative","t":7.5,"s":0.98},{"grp":"GFPT2 negative","t":15,"s":0.96},{"grp":"GFPT2 negative","t":23,"s":0.945},{"grp":"GFPT2 negative","t":50,"s":0.908},{"grp":"GFPT2 negative","t":55,"s":0.865},{"grp":"GFPT2 negative","t":58,"s":0.807},{"grp":"GFPT2 negative","t":64,"s":0.764},{"grp":"GFPT2 negative","t":68,"s":0.72},{"grp":"GFPT2 negative","t":72,"s":0.663},{"grp":"GFPT2 negative","t":476,"s":0.663},
      {"grp":"GFPT2 positive","t":0,"s":1},{"grp":"GFPT2 positive","t":5,"s":0.98},{"grp":"GFPT2 positive","t":10,"s":0.96},{"grp":"GFPT2 positive","t":25,"s":0.93},{"grp":"GFPT2 positive","t":28,"s":0.9},{"grp":"GFPT2 positive","t":31,"s":0.86},{"grp":"GFPT2 positive","t":44,"s":0.807},{"grp":"GFPT2 positive","t":46,"s":0.76},{"grp":"GFPT2 positive","t":47,"s":0.61},{"grp":"GFPT2 positive","t":52,"s":0.505},{"grp":"GFPT2 positive","t":119,"s":0.25},{"grp":"GFPT2 positive","t":151,"s":0.25}
    ],
    "kme": [
      {"grp":"GFPT2 negative","t":0,"s":1},{"grp":"GFPT2 negative","t":10,"s":1},{"grp":"GFPT2 negative","t":12,"s":0.98},{"grp":"GFPT2 negative","t":15,"s":0.957},{"grp":"GFPT2 negative","t":18,"s":0.937},{"grp":"GFPT2 negative","t":22.6,"s":0.928},{"grp":"GFPT2 negative","t":27,"s":0.914},{"grp":"GFPT2 negative","t":30,"s":0.865},{"grp":"GFPT2 negative","t":34.7,"s":0.84},{"grp":"GFPT2 negative","t":40.7,"s":0.82},{"grp":"GFPT2 negative","t":46.8,"s":0.79},{"grp":"GFPT2 negative","t":49.8,"s":0.76},{"grp":"GFPT2 negative","t":52.8,"s":0.735},{"grp":"GFPT2 negative","t":57.3,"s":0.69},{"grp":"GFPT2 negative","t":61.8,"s":0.66},{"grp":"GFPT2 negative","t":66,"s":0.65},{"grp":"GFPT2 negative","t":69,"s":0.6},{"grp":"GFPT2 negative","t":72.4,"s":0.56},{"grp":"GFPT2 negative","t":77,"s":0.545},{"grp":"GFPT2 negative","t":80,"s":0.5},{"grp":"GFPT2 negative","t":82,"s":0.44},{"grp":"GFPT2 negative","t":90.5,"s":0.43},{"grp":"GFPT2 negative","t":95,"s":0.415},{"grp":"GFPT2 negative","t":110,"s":0.395},{"grp":"GFPT2 negative","t":122,"s":0.375},{"grp":"GFPT2 negative","t":123,"s":0.34},{"grp":"GFPT2 negative","t":193,"s":0.34},
      {"grp":"GFPT2 positive","t":0,"s":1},{"grp":"GFPT2 positive","t":10.5,"s":0.965},{"grp":"GFPT2 positive","t":13.6,"s":0.937},{"grp":"GFPT2 positive","t":18,"s":0.908},{"grp":"GFPT2 positive","t":21,"s":0.88},{"grp":"GFPT2 positive","t":24,"s":0.84},{"grp":"GFPT2 positive","t":27,"s":0.807},{"grp":"GFPT2 positive","t":28.7,"s":0.764},{"grp":"GFPT2 positive","t":33,"s":0.706},{"grp":"GFPT2 positive","t":39,"s":0.663},{"grp":"GFPT2 positive","t":55,"s":0.6},{"grp":"GFPT2 positive","t":67,"s":0.54},{"grp":"GFPT2 positive","t":74.5,"s":0.455},{"grp":"GFPT2 positive","t":97.5,"s":0.366},{"grp":"GFPT2 positive","t":209,"s":0.366}
    ],
    "riskd": [
      {"grp":"GFPT2 negative","t":0,"n":113},{"grp":"GFPT2 negative","t":100,"n":7},{"grp":"GFPT2 negative","t":200,"n":1},{"grp":"GFPT2 negative","t":300,"n":1},{"grp":"GFPT2 negative","t":400,"n":1},{"grp":"GFPT2 negative","t":500,"n":0},
      {"grp":"GFPT2 positive","t":0,"n":50},{"grp":"GFPT2 positive","t":100,"n":2},{"grp":"GFPT2 positive","t":200,"n":0},{"grp":"GFPT2 positive","t":300,"n":0},{"grp":"GFPT2 positive","t":400,"n":0},{"grp":"GFPT2 positive","t":500,"n":0}
    ],
    "riske": [
      {"grp":"GFPT2 negative","t":0,"n":130},{"grp":"GFPT2 negative","t":50,"n":60},{"grp":"GFPT2 negative","t":100,"n":18},{"grp":"GFPT2 negative","t":150,"n":5},{"grp":"GFPT2 negative","t":200,"n":0},
      {"grp":"GFPT2 positive","t":0,"n":34},{"grp":"GFPT2 positive","t":50,"n":12},{"grp":"GFPT2 positive","t":100,"n":4},{"grp":"GFPT2 positive","t":150,"n":2},{"grp":"GFPT2 positive","t":200,"n":1}
    ],
    "fcells": [
      {"col":1,"row":"P site","k":"Uterine"},{"col":2,"row":"P site","k":"Uterine"},{"col":3,"row":"P site","k":"Uterine"},{"col":4,"row":"P site","k":"Uterine"},{"col":5,"row":"P site","k":"Uterine"},{"col":6,"row":"P site","k":"Uterine"},{"col":7,"row":"P site","k":"Uterine"},{"col":8,"row":"P site","k":"Uterine"},{"col":9,"row":"P site","k":"Extra-uterine"},{"col":10,"row":"P site","k":"Extra-uterine"},{"col":11,"row":"P site","k":"Uterine"},{"col":12,"row":"P site","k":"Uterine"},{"col":13,"row":"P site","k":"Uterine"},{"col":14,"row":"P site","k":"Uterine"},{"col":15,"row":"P site","k":"Uterine"},{"col":16,"row":"P site","k":"Uterine"},{"col":17,"row":"P site","k":"Uterine"},{"col":18,"row":"P site","k":"Uterine"},{"col":19,"row":"P site","k":"Extra-uterine"},{"col":20,"row":"P site","k":"Extra-uterine"},{"col":21,"row":"P site","k":"Extra-uterine"},{"col":22,"row":"P site","k":"Extra-uterine"},{"col":23,"row":"P site","k":"Extra-uterine"},{"col":24,"row":"P site","k":"Extra-uterine"},
      {"col":26,"row":"P site","k":"Uterine"},{"col":27,"row":"P site","k":"Uterine"},{"col":28,"row":"P site","k":"Uterine"},
      {"col":30,"row":"P site","k":"Uterine"},{"col":31,"row":"P site","k":"Uterine"},{"col":32,"row":"P site","k":"Uterine"},{"col":33,"row":"P site","k":"Extra-uterine"},{"col":34,"row":"P site","k":"Uterine"},{"col":35,"row":"P site","k":"Extra-uterine"},{"col":36,"row":"P site","k":"Uterine"},{"col":37,"row":"P site","k":"Uterine"},{"col":38,"row":"P site","k":"Uterine"},{"col":39,"row":"P site","k":"Extra-uterine"},
      {"col":1,"row":"P","k":"GFPT2 positive"},{"col":2,"row":"P","k":"GFPT2 positive"},{"col":3,"row":"P","k":"GFPT2 positive"},{"col":4,"row":"P","k":"GFPT2 positive"},{"col":5,"row":"P","k":"GFPT2 negative"},{"col":6,"row":"P","k":"GFPT2 negative"},{"col":7,"row":"P","k":"GFPT2 negative"},{"col":8,"row":"P","k":"GFPT2 negative"},{"col":9,"row":"P","k":"GFPT2 negative"},{"col":10,"row":"P","k":"GFPT2 negative"},{"col":11,"row":"P","k":"GFPT2 negative"},{"col":12,"row":"P","k":"GFPT2 negative"},{"col":13,"row":"P","k":"GFPT2 negative"},{"col":14,"row":"P","k":"GFPT2 negative"},{"col":15,"row":"P","k":"GFPT2 negative"},{"col":16,"row":"P","k":"GFPT2 negative"},{"col":17,"row":"P","k":"GFPT2 negative"},{"col":18,"row":"P","k":"GFPT2 negative"},{"col":19,"row":"P","k":"GFPT2 negative"},{"col":20,"row":"P","k":"GFPT2 negative"},{"col":21,"row":"P","k":"GFPT2 negative"},{"col":22,"row":"P","k":"GFPT2 negative"},{"col":23,"row":"P","k":"GFPT2 negative"},{"col":24,"row":"P","k":"GFPT2 negative"},
      {"col":26,"row":"P","k":"GFPT2 positive"},{"col":27,"row":"P","k":"GFPT2 positive"},{"col":28,"row":"P","k":"GFPT2 positive"},
      {"col":30,"row":"P","k":"GFPT2 positive"},{"col":31,"row":"P","k":"GFPT2 positive"},{"col":32,"row":"P","k":"GFPT2 positive"},{"col":33,"row":"P","k":"GFPT2 positive"},{"col":34,"row":"P","k":"GFPT2 negative"},{"col":35,"row":"P","k":"GFPT2 negative"},{"col":36,"row":"P","k":"GFPT2 negative"},{"col":37,"row":"P","k":"GFPT2 negative"},{"col":38,"row":"P","k":"GFPT2 negative"},{"col":39,"row":"P","k":"GFPT2 negative"},
      {"col":1,"row":"M1","k":"GFPT2 positive"},{"col":2,"row":"M1","k":"GFPT2 positive"},{"col":3,"row":"M1","k":"GFPT2 positive"},{"col":4,"row":"M1","k":"GFPT2 positive"},{"col":5,"row":"M1","k":"GFPT2 negative"},{"col":6,"row":"M1","k":"GFPT2 negative"},{"col":7,"row":"M1","k":"GFPT2 negative","note":"*"},{"col":8,"row":"M1","k":"GFPT2 negative"},{"col":9,"row":"M1","k":"GFPT2 negative"},{"col":10,"row":"M1","k":"GFPT2 negative"},{"col":11,"row":"M1","k":"GFPT2 negative"},{"col":12,"row":"M1","k":"GFPT2 negative"},{"col":13,"row":"M1","k":"GFPT2 negative"},{"col":14,"row":"M1","k":"GFPT2 negative"},{"col":15,"row":"M1","k":"GFPT2 negative"},{"col":16,"row":"M1","k":"GFPT2 negative"},{"col":17,"row":"M1","k":"GFPT2 negative"},{"col":18,"row":"M1","k":"GFPT2 negative"},{"col":19,"row":"M1","k":"GFPT2 negative"},{"col":20,"row":"M1","k":"GFPT2 negative"},{"col":21,"row":"M1","k":"GFPT2 negative"},{"col":22,"row":"M1","k":"GFPT2 negative"},{"col":23,"row":"M1","k":"GFPT2 negative"},{"col":24,"row":"M1","k":"GFPT2 negative"},
      {"col":26,"row":"M1","k":"GFPT2 positive"},{"col":27,"row":"M1","k":"GFPT2 negative"},{"col":28,"row":"M1","k":"GFPT2 negative"},
      {"col":30,"row":"M1","k":"GFPT2 negative"},{"col":31,"row":"M1","k":"GFPT2 negative"},{"col":32,"row":"M1","k":"GFPT2 negative"},{"col":33,"row":"M1","k":"GFPT2 negative"},{"col":34,"row":"M1","k":"GFPT2 positive"},{"col":35,"row":"M1","k":"GFPT2 positive"},{"col":36,"row":"M1","k":"GFPT2 positive"},{"col":37,"row":"M1","k":"GFPT2 positive"},{"col":38,"row":"M1","k":"GFPT2 positive"},{"col":39,"row":"M1","k":"GFPT2 positive"},
      {"col":5,"row":"M2","k":"GFPT2 negative"},{"col":6,"row":"M2","k":"GFPT2 negative"},{"col":7,"row":"M2","k":"GFPT2 negative","note":"*"},{"col":8,"row":"M2","k":"GFPT2 negative"},{"col":9,"row":"M2","k":"GFPT2 negative"},{"col":10,"row":"M2","k":"GFPT2 negative"},
      {"col":26,"row":"M2","k":"GFPT2 negative"},{"col":27,"row":"M2","k":"GFPT2 positive"},{"col":28,"row":"M2","k":"GFPT2 positive"},
      {"col":30,"row":"M2","k":"GFPT2 negative"},{"col":34,"row":"M2","k":"GFPT2 positive"},{"col":35,"row":"M2","k":"GFPT2 positive"},
      {"col":5,"row":"M3","k":"GFPT2 negative"},{"col":26,"row":"M3","k":"GFPT2 positive"},{"col":27,"row":"M3","k":"GFPT2 positive"}
    ],
    "fgroups": [
      {"grp": "CONCORDANT CASES", "first": 1, "last": 24},
      {"grp": "MIXED", "first": 26, "last": 28},
      {"grp": "DISCORDANT CASES", "first": 30, "last": 39}
    ]
  },
  "spacing": 26,
  "resolve": {"scale": {"x": "independent", "y": "independent", "color": "independent"}, "legend": {"color": "independent"}},
  "vconcat": [
    {
      "spacing": 31,
      "resolve": {"scale": {"x": "independent", "y": "independent", "color": "independent"}, "legend": {"color": "independent"}},
      "hconcat": [
        {
          "spacing": 2,
          "resolve": {"scale": {"x": "independent", "y": "independent", "color": "independent"}, "legend": {"color": "independent"}},
          "vconcat": [
            {
              "title": {"text": "a", "anchor": "start", "frame": "bounds", "fontSize": 15, "fontWeight": "bold", "dx": -26, "offset": -4},
              "spacing": 0,
              "bounds": "flush",
              "resolve": {"scale": {"x": "independent", "y": "independent", "color": "independent"}},
              "vconcat": [
                {
                  "width": 194, "height": 74,
                  "view": {"stroke": "#333", "strokeWidth": 0.8},
                  "title": {"text": ["KEGG", "AMINO SUGAR AND NUCLEOTIDE SUGAR METABOLISM"], "fontSize": 7.2, "fontWeight": "bold", "lineHeight": 8, "offset": 3},
                  "layer": [
                    {
                      "data": {"values": [{}]},
                      "mark": {"type": "rule", "strokeDash": [1.5, 1.5], "color": "#999", "strokeWidth": 0.6},
                      "encoding": {"y": {"datum": 0, "type": "quantitative"}}
                    },
                    {
                      "data": {"name": "es"},
                      "mark": {"type": "line", "color": "#ff3030", "strokeWidth": 0.9},
                      "encoding": {
                        "x": {"field": "rank", "type": "quantitative", "scale": {"domain": [0, 21800], "nice": false}, "axis": null},
                        "y": {"field": "es", "type": "quantitative", "scale": {"domain": [-0.021, 0.564], "nice": false, "zero": false},
                          "axis": {"values": [0, 0.1, 0.2, 0.3, 0.4, 0.5], "format": ".1f", "labelFontSize": 5, "labelAngle": 270, "tickSize": 2.5, "domain": false, "labelPadding": 1,
                            "title": ["Enrichment", "score (ES)"], "titleFontSize": 7.5, "titleFontWeight": "bold", "titlePadding": 2}}
                      }
                    },
                    {
                      "data": {"values": [{"t": ["Nominal P\u2212value: 0.0414", "FDR: 0.0515", "ES: 0.5325", "Normalized ES: 1.5831"]}]},
                      "mark": {"type": "text", "align": "right", "baseline": "top", "fontSize": 7, "lineHeight": 8.4, "dx": -2, "color": "#222"},
                      "encoding": {"x": {"datum": 21800}, "y": {"datum": 0.548}, "text": {"field": "t"}}
                    }
                  ]
                },
                {
                  "width": 194, "height": 24,
                  "view": {"stroke": "#333", "strokeWidth": 0.8},
                  "data": {"name": "hits"},
                  "mark": {"type": "rule", "color": "#8c8c8c", "strokeWidth": 0.8},
                  "encoding": {"x": {"field": "rank", "type": "quantitative", "scale": {"domain": [0, 21800], "nice": false}, "axis": null}}
                },
                {
                  "width": 194, "height": 10,
                  "view": {"stroke": "#333", "strokeWidth": 0.8},
                  "data": {"values": [{"from": 0, "to": 21800, "label": "Subtype 2, positively correlated"}]},
                  "layer": [
                    {
                      "mark": {"type": "rect", "color": {"gradient": "linear", "x1": 0, "y1": 0, "x2": 1, "y2": 0,
                        "stops": [{"offset": 0, "color": "#ee2020"}, {"offset": 0.15, "color": "#f25a55"}, {"offset": 0.52, "color": "#ffffff"}, {"offset": 1, "color": "#3535f0"}]}},
                      "encoding": {"x": {"field": "from", "type": "quantitative", "scale": {"domain": [0, 21800], "nice": false}, "axis": null}, "x2": {"field": "to"}}
                    },
                    {
                      "mark": {"type": "text", "align": "left", "baseline": "middle", "dx": 2, "fontSize": 6.5, "color": "#c80000"},
                      "encoding": {"x": {"field": "from", "type": "quantitative"}, "text": {"field": "label"}}
                    }
                  ]
                },
                {
                  "width": 194, "height": 78,
                  "view": {"stroke": "#333", "strokeWidth": 0.8},
                  "data": {"name": "s2n"},
                  "mark": {"type": "area", "color": "#c8c8c8"},
                  "encoding": {
                    "x": {"field": "rank", "type": "quantitative", "scale": {"domain": [0, 21800], "nice": false},
                      "axis": {"values": [0, 5000, 10000, 15000, 20000], "format": "d", "labelFontSize": 5, "tickSize": 2.5, "domain": false, "labelPadding": 1,
                        "title": "Rank in ordered gene list", "titleFontSize": 7, "titleFontWeight": "normal", "titlePadding": 2}},
                    "y": {"field": "s", "type": "quantitative", "scale": {"domain": [-0.895, 0.84], "nice": false},
                      "axis": {"values": [-0.5, 0, 0.5], "format": ".1f", "labelFontSize": 5, "labelAngle": 270, "tickSize": 2.5, "domain": false, "labelPadding": 1,
                        "title": "Signal2Noise", "titleFontSize": 7.5, "titleFontWeight": "bold", "titlePadding": 2}}
                  }
                }
              ]
            },
            {
              "title": {"text": "c", "anchor": "start", "frame": "bounds", "fontSize": 15, "fontWeight": "bold", "dx": -27, "offset": -3},
              "resolve": {"scale": {"color": "independent"}},
              "vconcat": [
                {
                  "width": 197, "height": 79,
                  "title": {"text": ["One-way ANOVA", "P = 0.0004"], "fontSize": 7, "fontWeight": "bold", "lineHeight": 8.5, "offset": 5},
                  "layer": [
                    {
                      "data": {"name": "cdots"},
                      "transform": [
                        {"window": [{"op": "row_number", "as": "i"}], "groupby": ["grp", "v"]},
                        {"joinaggregate": [{"op": "count", "as": "n"}], "groupby": ["grp", "v"]},
                        {"calculate": "(datum.i - (datum.n + 1) / 2) * (datum.n > 6 ? 1 : 2)", "as": "off"}
                      ],
                      "mark": {"type": "circle", "size": 11, "opacity": 1},
                      "encoding": {
                        "x": {"field": "grp", "type": "nominal", "scale": {"domain": ["negative", "weak", "strong"], "paddingInner": 0, "paddingOuter": 0.186},
                          "axis": {"title": "GFPT2 protein expression", "titleFontSize": 7, "titleFontWeight": "bold", "labelFontSize": 7, "labelFontWeight": "bold", "labelAngle": 0,
                            "domainColor": "#111", "domainWidth": 1.2, "tickColor": "#111", "tickSize": 3, "labelPadding": 3, "titlePadding": 5}},
                        "xOffset": {"field": "off", "type": "quantitative", "scale": {"domain": [-8.8, 8.8]}},
                        "y": {"field": "v", "type": "quantitative", "scale": {"domain": [0, 5], "nice": false},
                          "axis": {"values": [0, 1, 2, 3, 4, 5], "title": ["Normalized GFPT2", "mRNA expression"], "titleFontSize": 6.5, "titleFontWeight": "bold", "labelFontSize": 5,
                            "domainColor": "#111", "domainWidth": 1.2, "tickColor": "#111", "tickSize": 3, "titlePadding": 0}},
                        "color": {"field": "grp", "type": "nominal", "scale": {"domain": ["negative", "weak", "strong"], "range": ["#1f75cc", "#f79a9a", "#cc2020"]}, "legend": null}
                      }
                    },
                    {
                      "data": {"name": "cbars"},
                      "mark": {"type": "tick", "size": 38, "thickness": 1.1},
                      "encoding": {"x": {"field": "grp", "type": "nominal"}, "y": {"field": "mean", "type": "quantitative"}, "color": {"field": "grp", "type": "nominal", "legend": null}}
                    },
                    {
                      "data": {"name": "cbars"},
                      "mark": {"type": "rule", "strokeWidth": 1},
                      "encoding": {"x": {"field": "grp", "type": "nominal"}, "y": {"field": "lo", "type": "quantitative"}, "y2": {"field": "hi"}, "color": {"field": "grp", "type": "nominal", "legend": null}}
                    },
                    {
                      "data": {"name": "cbars"},
                      "mark": {"type": "tick", "size": 18, "thickness": 1},
                      "encoding": {"x": {"field": "grp", "type": "nominal"}, "y": {"field": "lo", "type": "quantitative"}, "color": {"field": "grp", "type": "nominal", "legend": null}}
                    },
                    {
                      "data": {"name": "cbars"},
                      "mark": {"type": "tick", "size": 18, "thickness": 1},
                      "encoding": {"x": {"field": "grp", "type": "nominal"}, "y": {"field": "hi", "type": "quantitative"}, "color": {"field": "grp", "type": "nominal", "legend": null}}
                    }
                  ]
                }
              ]
            }
          ]
        },
        {
          "title": {"text": "b", "anchor": "start", "frame": "bounds", "fontSize": 15, "fontWeight": "bold", "dx": -27, "offset": 17},
          "spacing": 1,
          "bounds": "flush",
          "resolve": {"scale": {"x": "independent", "y": "independent", "color": "independent"}, "legend": {"color": "independent"}},
          "vconcat": [
            {
              "width": 231, "height": 31,
              "data": {"name": "dend"},
              "layer": [
                {
                  "mark": {"type": "rule", "color": "#666", "strokeWidth": 0.7},
                  "encoding": {
                    "x": {"field": "xl", "type": "quantitative", "scale": {"domain": [0, 40], "nice": false}, "axis": null},
                    "y": {"field": "hl", "type": "quantitative", "scale": {"domain": [0, 100], "nice": false}, "axis": null},
                    "y2": {"field": "h"}
                  }
                },
                {
                  "mark": {"type": "rule", "color": "#666", "strokeWidth": 0.7},
                  "encoding": {"x": {"field": "xr", "type": "quantitative"}, "y": {"field": "hr", "type": "quantitative"}, "y2": {"field": "h"}}
                },
                {
                  "mark": {"type": "rule", "color": "#666", "strokeWidth": 0.7},
                  "encoding": {"x": {"field": "xl", "type": "quantitative"}, "x2": {"field": "xr"}, "y": {"field": "h", "type": "quantitative"}}
                }
              ]
            },
            {
              "width": 231, "height": 35,
              "data": {"name": "ann"},
              "encoding": {
                "x": {"field": "c", "type": "ordinal", "scale": {"domain": [1,2,3,4,5,6,7,8,9,10,11,12,12.5,13,14,15,16,17,18,19,20,21,22,23,24,25,26,27,28,29,30,31,32,33,33.5,34,35,36,37,38], "paddingInner": 0, "paddingOuter": 0}, "axis": null},
                "y": {"field": "a", "type": "nominal", "scale": {"domain": ["IHC GFPT2", "IHC c-Myc", "Subtype", "P / R / M", "Location"], "paddingInner": 0.12, "paddingOuter": 0},
                  "axis": {"orient": "right", "ticks": false, "domain": false, "labelFontSize": 6.8, "labelFontWeight": "bold", "labelPadding": 2, "title": null, "labelColor": "#111"}}
              },
              "layer": [
                {
                  "transform": [{"filter": "datum.a == 'IHC GFPT2'"}],
                  "mark": "rect",
                  "encoding": {"color": {"field": "k", "type": "nominal", "scale": {"domain": ["Negative", "Weak", "Strong"], "range": ["#a7cff7", "#3b6fd4", "#0a2b94"]},
                    "legend": {"title": "IHC GFPT2", "orient": "none", "legendX": 295, "legendY": -2, "direction": "vertical", "symbolType": "square", "symbolSize": 121, "symbolStrokeWidth": 0, "rowPadding": 0, "labelFontSize": 6.5, "titleFontSize": 7, "titleFontWeight": "bold", "titlePadding": 2, "labelOffset": 6}}}
                },
                {
                  "transform": [{"filter": "datum.a == 'IHC c-Myc'"}],
                  "mark": "rect",
                  "encoding": {"color": {"field": "k", "type": "nominal", "scale": {"domain": ["Negative", "Weak", "Strong", "Not available"], "range": ["#dcaaf0", "#c657ea", "#8f35e8", "#000000"]},
                    "legend": {"title": "IHC c-Myc", "orient": "none", "legendX": 295, "legendY": 54, "direction": "vertical", "symbolType": "square", "symbolSize": 110, "symbolStrokeWidth": 0, "rowPadding": 0, "labelFontSize": 6.5, "titleFontSize": 7, "titleFontWeight": "bold", "titlePadding": 2, "labelOffset": 6}}}
                },
                {
                  "transform": [{"filter": "datum.a == 'Subtype'"}],
                  "mark": "rect",
                  "encoding": {"color": {"field": "k", "type": "nominal", "scale": {"domain": ["Subtype1", "Subtype2", "Subtype3"], "range": ["#fa9c9c", "#f23535", "#990000"]},
                    "legend": {"title": "Subtype", "orient": "none", "legendX": 295, "legendY": 120, "direction": "vertical", "symbolType": "square", "symbolSize": 115, "symbolStrokeWidth": 0, "rowPadding": 0, "labelFontSize": 6.5, "titleFontSize": 7, "titleFontWeight": "bold", "titlePadding": 2, "labelOffset": 6}}}
                },
                {
                  "transform": [{"filter": "datum.a == 'P / R / M'"}],
                  "mark": "rect",
                  "encoding": {"color": {"field": "k", "type": "nominal", "scale": {"domain": ["Primary", "Local recurrence", "Metastasis"], "range": ["#cdf7cd", "#14cc14", "#2e6b00"]},
                    "legend": {"title": "P / R / M", "orient": "none", "legendX": 295, "legendY": 176, "direction": "vertical", "symbolType": "square", "symbolSize": 110, "symbolStrokeWidth": 0, "rowPadding": 0, "labelFontSize": 6.5, "titleFontSize": 7, "titleFontWeight": "bold", "titlePadding": 2, "labelOffset": 6}}}
                },
                {
                  "transform": [{"filter": "datum.a == 'Location'"}],
                  "mark": "rect",
                  "encoding": {"color": {"field": "k", "type": "nominal", "scale": {"domain": ["Extremities", "Thoracic/Abdominal/Retroperitoneal", "Uterine", "Unknown"], "range": ["#ffff66", "#ff9933", "#d6400b", "#6b3a06"]},
                    "legend": {"title": "Location", "orient": "none", "legendX": 295, "legendY": 229, "direction": "vertical", "symbolType": "square", "symbolSize": 110, "symbolStrokeWidth": 0, "rowPadding": 0, "labelFontSize": 6.5, "titleFontSize": 7, "titleFontWeight": "bold", "titlePadding": 2, "labelOffset": 6, "labelLimit": 250}}}
                }
              ],
              "resolve": {"scale": {"color": "independent"}, "legend": {"color": "independent"}}
            },
            {
              "width": 231, "height": 247,
              "data": {"name": "heat"},
              "mark": "rect",
              "encoding": {
                "x": {"field": "c", "type": "ordinal", "scale": {"domain": [1,2,3,4,5,6,7,8,9,10,11,12,12.5,13,14,15,16,17,18,19,20,21,22,23,24,25,26,27,28,29,30,31,32,33,33.5,34,35,36,37,38], "paddingInner": 0, "paddingOuter": 0}, "axis": null},
                "y": {"field": "g", "type": "nominal",
                  "scale": {"domain": ["GFPT2", "HEXB", "UAP1", "NANS", "PGM3", "HK1", "UGP2", "UGDH", "GALK1", "GALE", "GMPPB", "AMDHD2", "GNPDA1", "PMM1", "GMDS", "GMPPA", "NAGK", "HEXA", "CYB5R1"]},
                  "axis": {"orient": "right", "ticks": false, "domain": false, "labelFontSize": 8.5, "labelFontStyle": "italic", "labelPadding": 3, "title": null,
                    "labelColor": {"condition": {"test": "indexof(['GFPT2','UAP1','PGM3'], datum.value) >= 0", "value": "#e00000"}, "value": "#222"},
                    "labelFontWeight": {"condition": {"test": "indexof(['GFPT2','UAP1','PGM3'], datum.value) >= 0", "value": "bold"}, "value": "normal"}}},
                "color": {"field": "v", "type": "quantitative",
                  "scale": {"domain": [-5.4, -2, -1, 0, 1, 2, 3.9], "range": ["#2166ac", "#4a8cc4", "#a6cbe3", "#f7f7f7", "#f4b196", "#dc6a55", "#b2182b"]},
                  "legend": {"title": ["Normalized", "gene expression"], "orient": "none", "legendX": 378, "legendY": -39, "direction": "vertical", "gradientLength": 88, "gradientThickness": 5,
                    "values": [-4, -2, 0, 2], "labelFontSize": 5.5, "labelOffset": 3, "titleFontSize": 6.8, "titleFontWeight": "bold", "titlePadding": 6, "gradientStrokeWidth": 0}}
              }
            }
          ]
        }
      ]
    },
    {
      "spacing": 26,
      "resolve": {"scale": {"x": "independent", "y": "independent", "color": "independent"}, "legend": {"color": "independent"}},
      "vconcat": [
        {
          "spacing": 61,
          "resolve": {"scale": {"x": "independent", "y": "independent", "color": "independent"}, "legend": {"color": "independent"}},
          "hconcat": [
            {
              "title": {"text": "d", "anchor": "start", "frame": "bounds", "fontSize": 15, "fontWeight": "bold", "dx": -26, "offset": 6},
              "spacing": 24,
              "bounds": "flush",
              "resolve": {"scale": {"x": "independent", "y": "independent", "color": "independent"}, "legend": {"color": "independent"}},
              "vconcat": [
                {
                  "width": 241, "height": 128,
                  "title": {"text": "Uterine LMS (n = 163)", "fontSize": 7, "fontWeight": "bold", "offset": 6},
                  "view": {"stroke": "#b3b3b3", "strokeWidth": 0.8},
                  "layer": [
                    {
                      "data": {"name": "kmd"},
                      "mark": {"type": "line", "interpolate": "step-after", "strokeWidth": 1},
                      "encoding": {
                        "x": {"field": "t", "type": "quantitative", "scale": {"domain": [-21, 525], "nice": false, "zero": false},
                          "axis": {"values": [0, 100, 200, 300, 400, 500], "format": "d", "grid": true, "gridColor": "#ebebeb", "gridWidth": 0.6, "labelFontSize": 4.5, "labelColor": "#666", "tickColor": "#aaa", "tickSize": 2, "domain": false, "labelPadding": 1,
                            "title": "Survival time (months)", "titleFontSize": 7, "titleFontWeight": "bold", "titlePadding": 1}},
                        "y": {"field": "s", "type": "quantitative", "scale": {"domain": [-0.054, 1.052], "nice": false, "zero": false},
                          "axis": {"values": [0, 0.25, 0.5, 0.75, 1], "format": ".2f", "grid": true, "gridColor": "#ebebeb", "gridWidth": 0.6, "labelFontSize": 4.5, "labelColor": "#666", "tickColor": "#aaa", "tickSize": 2, "domain": false, "labelPadding": 1,
                            "title": "Survival probability", "titleFontSize": 7, "titleFontWeight": "bold", "titlePadding": 4}},
                        "color": {"field": "grp", "type": "nominal", "scale": {"domain": ["GFPT2 negative", "GFPT2 positive"], "range": ["#45aaf0", "#ee2222"]},
                          "legend": {"orient": "top-right", "title": null, "labelFontSize": 7, "labelFontWeight": "bold", "symbolType": "stroke", "symbolStrokeWidth": 2.5, "symbolSize": 30, "rowPadding": 0, "offset": 4, "padding": 0, "labelOffset": 3}}
                      }
                    },
                    {
                      "data": {"values": [{"t": ["HR = 2.5", "P = 0.032"]}]},
                      "mark": {"type": "text", "align": "left", "baseline": "top", "fontSize": 7, "fontWeight": "bold", "lineHeight": 9},
                      "encoding": {"x": {"datum": 0}, "y": {"datum": 0.25}, "text": {"field": "t"}}
                    }
                  ]
                },
                {
                  "width": 241, "height": 33,
                  "title": {"text": "Number of patients at risk", "anchor": "start", "frame": "group", "fontSize": 7, "fontWeight": "normal", "offset": 1},
                  "view": {"stroke": "#b3b3b3", "strokeWidth": 0.8},
                  "data": {"name": "riskd"},
                  "mark": {"type": "text", "fontSize": 7.5, "fontWeight": "bold"},
                  "encoding": {
                    "x": {"field": "t", "type": "quantitative", "scale": {"domain": [-21, 525], "nice": false, "zero": false},
                      "axis": {"values": [0, 100, 200, 300, 400, 500], "format": "d", "grid": true, "gridColor": "#ebebeb", "gridWidth": 0.6, "labelFontSize": 4.5, "labelColor": "#666", "tickColor": "#aaa", "tickSize": 2, "domain": false, "labelPadding": 1,
                        "title": "Survival time (months)", "titleFontSize": 7, "titleFontWeight": "bold", "titlePadding": 1}},
                    "y": {"field": "grp", "type": "nominal", "scale": {"domain": ["GFPT2 negative", "GFPT2 positive"]},
                      "axis": {"title": null, "ticks": false, "domain": false, "labelFontSize": 6.5, "labelFontWeight": "bold", "labelExpr": "split(datum.value, ' ')", "labelLineHeight": 8, "labelPadding": 3,
                        "labelColor": {"condition": {"test": "datum.value == 'GFPT2 negative'", "value": "#45aaf0"}, "value": "#ee2222"}}},
                    "color": {"field": "grp", "type": "nominal", "scale": {"domain": ["GFPT2 negative", "GFPT2 positive"], "range": ["#45aaf0", "#ee2222"]}, "legend": null},
                    "text": {"field": "n", "type": "quantitative"}
                  }
                }
              ]
            },
            {
              "title": {"text": "e", "anchor": "start", "frame": "bounds", "fontSize": 15, "fontWeight": "bold", "dx": -37, "offset": 6},
              "spacing": 24,
              "bounds": "flush",
              "resolve": {"scale": {"x": "independent", "y": "independent", "color": "independent"}, "legend": {"color": "independent"}},
              "vconcat": [
                {
                  "width": 234, "height": 128,
                  "title": {"text": "Extra-uterine LMS (n = 164)", "fontSize": 7, "fontWeight": "bold", "offset": 6},
                  "view": {"stroke": "#b3b3b3", "strokeWidth": 0.8},
                  "layer": [
                    {
                      "data": {"name": "kme"},
                      "mark": {"type": "line", "interpolate": "step-after", "strokeWidth": 1},
                      "encoding": {
                        "x": {"field": "t", "type": "quantitative", "scale": {"domain": [-3, 209], "nice": false, "zero": false},
                          "axis": {"values": [0, 50, 100, 150, 200], "format": "d", "grid": true, "gridColor": "#ebebeb", "gridWidth": 0.6, "labelFontSize": 4.5, "labelColor": "#666", "tickColor": "#aaa", "tickSize": 2, "domain": false, "labelPadding": 1,
                            "title": "Survival time (months)", "titleFontSize": 7, "titleFontWeight": "bold", "titlePadding": 1}},
                        "y": {"field": "s", "type": "quantitative", "scale": {"domain": [-0.054, 1.052], "nice": false, "zero": false},
                          "axis": {"values": [0, 0.25, 0.5, 0.75, 1], "format": ".2f", "grid": true, "gridColor": "#ebebeb", "gridWidth": 0.6, "labelFontSize": 4.5, "labelColor": "#666", "tickColor": "#aaa", "tickSize": 2, "domain": false, "labelPadding": 1,
                            "title": "Survival probability", "titleFontSize": 7, "titleFontWeight": "bold", "titlePadding": 4}},
                        "color": {"field": "grp", "type": "nominal", "scale": {"domain": ["GFPT2 negative", "GFPT2 positive"], "range": ["#45aaf0", "#ee2222"]},
                          "legend": {"orient": "top-right", "title": null, "labelFontSize": 7, "labelFontWeight": "bold", "symbolType": "stroke", "symbolStrokeWidth": 2.5, "symbolSize": 30, "rowPadding": 0, "offset": 4, "padding": 0, "labelOffset": 3}}
                      }
                    },
                    {
                      "data": {"values": [{"t": ["HR = 1.3", "P = 0.5"]}]},
                      "mark": {"type": "text", "align": "left", "baseline": "top", "fontSize": 7, "fontWeight": "bold", "lineHeight": 9},
                      "encoding": {"x": {"datum": 0}, "y": {"datum": 0.25}, "text": {"field": "t"}}
                    }
                  ]
                },
                {
                  "width": 234, "height": 33,
                  "title": {"text": "Number of patients at risk", "anchor": "start", "frame": "group", "fontSize": 7, "fontWeight": "normal", "offset": 1, "dx": -8},
                  "view": {"stroke": "#b3b3b3", "strokeWidth": 0.8},
                  "data": {"name": "riske"},
                  "mark": {"type": "text", "fontSize": 7.5, "fontWeight": "bold"},
                  "encoding": {
                    "x": {"field": "t", "type": "quantitative", "scale": {"domain": [-3, 209], "nice": false, "zero": false},
                      "axis": {"values": [0, 50, 100, 150, 200], "format": "d", "grid": true, "gridColor": "#ebebeb", "gridWidth": 0.6, "labelFontSize": 4.5, "labelColor": "#666", "tickColor": "#aaa", "tickSize": 2, "domain": false, "labelPadding": 1,
                        "title": "Survival time (months)", "titleFontSize": 7, "titleFontWeight": "bold", "titlePadding": 1}},
                    "y": {"field": "grp", "type": "nominal", "scale": {"domain": ["GFPT2 negative", "GFPT2 positive"]},
                      "axis": {"title": null, "ticks": false, "domain": false, "labelFontSize": 6.5, "labelFontWeight": "bold", "labelExpr": "split(datum.value, ' ')", "labelLineHeight": 8, "labelPadding": 11,
                        "labelColor": {"condition": {"test": "datum.value == 'GFPT2 negative'", "value": "#45aaf0"}, "value": "#ee2222"}}},
                    "color": {"field": "grp", "type": "nominal", "scale": {"domain": ["GFPT2 negative", "GFPT2 positive"], "range": ["#45aaf0", "#ee2222"]}, "legend": null},
                    "text": {"field": "n", "type": "quantitative"}
                  }
                }
              ]
            }
          ]
        },
        {
          "width": 513, "height": 88,
          "title": {"text": "f", "anchor": "start", "frame": "bounds", "fontSize": 15, "fontWeight": "bold", "dx": -25, "offset": 19},
          "layer": [
            {
              "data": {"name": "fcells"},
              "transform": [{"filter": "datum.row == 'P site'"}, {"calculate": "datum.col - 0.5", "as": "x0"}, {"calculate": "datum.col + 0.5", "as": "x1"}],
              "mark": {"type": "rect", "stroke": "white", "strokeWidth": 1},
              "encoding": {
                "x": {"field": "x0", "type": "quantitative", "scale": {"domain": [-0.3, 39.5], "nice": false, "zero": false}, "axis": null},
                "x2": {"field": "x1"},
                "y": {"field": "row", "type": "nominal", "scale": {"domain": ["P site", " ", "P", "M1", "M2", "M3", "  ", "   "], "paddingInner": 0, "paddingOuter": 0},
                  "axis": {"title": "\u00a0", "titleFontSize": 2, "titlePadding": 7, "ticks": false, "domain": false, "labelFontSize": 6.5, "labelFontWeight": "bold", "labelPadding": 4, "labelColor": "#111"}},
                "color": {"field": "k", "type": "nominal", "scale": {"domain": ["Uterine", "Extra-uterine"], "range": ["#c00000", "#ffc000"]},
                  "legend": {"title": null, "orient": "none", "legendX": 528, "legendY": 0, "direction": "vertical", "symbolType": "square", "symbolSize": 110, "symbolStrokeColor": "white", "symbolStrokeWidth": 1, "rowPadding": -4, "labelFontSize": 6.5, "labelFontWeight": "bold", "labelOffset": 9}}
              }
            },
            {
              "data": {"name": "fcells"},
              "transform": [{"filter": "datum.row != 'P site'"}, {"calculate": "datum.col - 0.5", "as": "x0"}, {"calculate": "datum.col + 0.5", "as": "x1"}],
              "mark": {"type": "rect", "stroke": "white", "strokeWidth": 1},
              "encoding": {
                "x": {"field": "x0", "type": "quantitative"},
                "x2": {"field": "x1"},
                "y": {"field": "row", "type": "nominal"},
                "color": {"field": "k", "type": "nominal", "scale": {"domain": ["GFPT2 positive", "GFPT2 negative"], "range": ["#001f9c", "#9dc3e6"]},
                  "legend": {"title": null, "orient": "none", "legendX": 528, "legendY": 44.7, "direction": "vertical", "symbolType": "square", "symbolSize": 110, "symbolStrokeColor": "white", "symbolStrokeWidth": 1, "rowPadding": -4, "labelFontSize": 6.5, "labelFontWeight": "bold", "labelOffset": 9}}
              }
            },
            {
              "data": {"name": "fcells"},
              "transform": [{"filter": "datum.note == '*'"}],
              "mark": {"type": "text", "fontSize": 8, "fontWeight": "bold", "baseline": "middle", "dy": 2, "color": "#111"},
              "encoding": {"x": {"field": "col", "type": "quantitative"}, "y": {"field": "row", "type": "nominal"}, "text": {"field": "note"}}
            },
            {
              "data": {"name": "fgroups"},
              "transform": [{"calculate": "datum.first - 0.5", "as": "a"}, {"calculate": "datum.last + 0.5", "as": "b"}],
              "mark": {"type": "rule", "strokeWidth": 1.2, "color": "#222"},
              "encoding": {"x": {"field": "a", "type": "quantitative"}, "x2": {"field": "b"}, "y": {"datum": "   ", "type": "nominal", "bandPosition": 0}}
            },
            {
              "data": {"name": "fgroups"},
              "transform": [{"calculate": "(datum.first + datum.last) / 2", "as": "m"}],
              "mark": {"type": "text", "fontSize": 6.5, "fontWeight": "bold", "baseline": "middle", "color": "#111"},
              "encoding": {"x": {"field": "m", "type": "quantitative"}, "y": {"datum": "   ", "type": "nominal", "bandPosition": 0.7}, "text": {"field": "grp"}}
            }
          ],
          "resolve": {"scale": {"color": "independent"}, "legend": {"color": "independent"}}
        }
      ]
    }
  ]
}
